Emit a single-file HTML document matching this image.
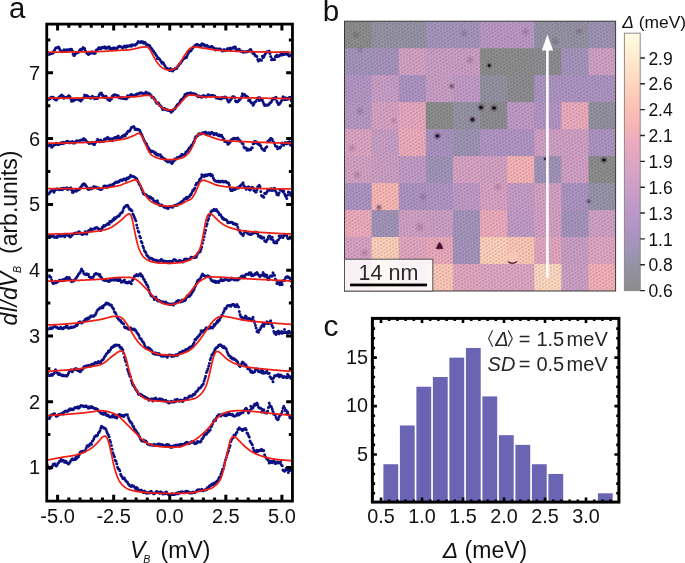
<!DOCTYPE html><html><head><meta charset="utf-8"><style>html,body{margin:0;padding:0;background:#fff;}svg{display:block;will-change:transform;}</style></head><body>
<svg width="685" height="563" viewBox="0 0 685 563" font-family='"Liberation Sans", sans-serif' fill="#111">
<rect width="685" height="563" fill="#fff"/>
<defs><radialGradient id="blob"><stop offset="0" stop-color="#000" stop-opacity="0.23"/><stop offset="0.6" stop-color="#000" stop-opacity="0.11"/><stop offset="1" stop-color="#000" stop-opacity="0"/></radialGradient><pattern id="lat" patternUnits="userSpaceOnUse" width="6.0" height="3.45" patternTransform="rotate(-4)"><rect width="6.0" height="3.45" fill="#fff" fill-opacity="0.02"/><g fill="url(#blob)"><ellipse cx="0" cy="0" rx="1.9" ry="1.0" transform="rotate(-40 0 0)"/><ellipse cx="6" cy="0" rx="1.9" ry="1.0" transform="rotate(-40 6 0)"/><ellipse cx="0" cy="3.45" rx="1.9" ry="1.0" transform="rotate(-40 0 3.45)"/><ellipse cx="6" cy="3.45" rx="1.9" ry="1.0" transform="rotate(-40 6 3.45)"/><ellipse cx="3" cy="1.725" rx="1.9" ry="1.0" transform="rotate(-40 3 1.725)"/></g></pattern><radialGradient id="spot"><stop offset="0" stop-color="#0c0614" stop-opacity="1"/><stop offset="0.6" stop-color="#0c0614" stop-opacity="0.85"/><stop offset="1" stop-color="#0c0614" stop-opacity="0"/></radialGradient><radialGradient id="spotm"><stop offset="0" stop-color="#2a0c2a" stop-opacity="0.6"/><stop offset="1" stop-color="#2a0c2a" stop-opacity="0"/></radialGradient><radialGradient id="smudge"><stop offset="0" stop-color="#301030" stop-opacity="0.2"/><stop offset="1" stop-color="#301030" stop-opacity="0"/></radialGradient><linearGradient id="cbar" x1="0" y1="1" x2="0" y2="0">
<stop offset="0" stop-color="#8c8c8e"/>
<stop offset="0.05" stop-color="#8f8f98"/>
<stop offset="0.1" stop-color="#9592a5"/>
<stop offset="0.15" stop-color="#9d94b3"/>
<stop offset="0.2" stop-color="#a793be"/>
<stop offset="0.25" stop-color="#b094c4"/>
<stop offset="0.3" stop-color="#b998c6"/>
<stop offset="0.35" stop-color="#c29bc7"/>
<stop offset="0.4" stop-color="#cb9fc6"/>
<stop offset="0.45" stop-color="#d5a2c5"/>
<stop offset="0.5" stop-color="#dea5c3"/>
<stop offset="0.55" stop-color="#e7a8c0"/>
<stop offset="0.6" stop-color="#f0adbb"/>
<stop offset="0.65" stop-color="#f7b5b7"/>
<stop offset="0.7" stop-color="#fbbfb6"/>
<stop offset="0.75" stop-color="#fdc9b8"/>
<stop offset="0.8" stop-color="#fed4bd"/>
<stop offset="0.85" stop-color="#ffdfc5"/>
<stop offset="0.9" stop-color="#ffeace"/>
<stop offset="0.95" stop-color="#fef4d8"/>
<stop offset="1" stop-color="#fefee2"/>
</linearGradient></defs>
<rect x="344.5" y="21.2" width="28.11" height="27.98" fill="#8b8b8c"/>
<rect x="371.61" y="21.2" width="28.11" height="27.98" fill="#9491a3"/>
<rect x="398.72" y="21.2" width="28.11" height="27.98" fill="#9491a3"/>
<rect x="425.83" y="21.2" width="28.11" height="27.98" fill="#a492bc"/>
<rect x="452.94" y="21.2" width="28.11" height="27.98" fill="#a492bc"/>
<rect x="480.05" y="21.2" width="28.11" height="27.98" fill="#b997c4"/>
<rect x="507.16" y="21.2" width="28.11" height="27.98" fill="#b997c4"/>
<rect x="534.27" y="21.2" width="28.11" height="27.98" fill="#9491a3"/>
<rect x="561.38" y="21.2" width="28.11" height="27.98" fill="#9491a3"/>
<rect x="588.49" y="21.2" width="27.11" height="27.98" fill="#9d92b3"/>
<rect x="344.5" y="48.18" width="28.11" height="27.98" fill="#a492bc"/>
<rect x="371.61" y="48.18" width="28.11" height="27.98" fill="#a492bc"/>
<rect x="398.72" y="48.18" width="28.11" height="27.98" fill="#d3a0c3"/>
<rect x="425.83" y="48.18" width="28.11" height="27.98" fill="#ca9dc5"/>
<rect x="452.94" y="48.18" width="28.11" height="27.98" fill="#ca9dc5"/>
<rect x="480.05" y="48.18" width="28.11" height="27.98" fill="#8b8b8c"/>
<rect x="507.16" y="48.18" width="28.11" height="27.98" fill="#8b8b8c"/>
<rect x="534.27" y="48.18" width="28.11" height="27.98" fill="#8b8b90"/>
<rect x="561.38" y="48.18" width="28.11" height="27.98" fill="#a492bc"/>
<rect x="588.49" y="48.18" width="27.11" height="27.98" fill="#d09fc4"/>
<rect x="344.5" y="75.16" width="28.11" height="27.98" fill="#b394c3"/>
<rect x="371.61" y="75.16" width="28.11" height="27.98" fill="#c89dc5"/>
<rect x="398.72" y="75.16" width="28.11" height="27.98" fill="#ac92c1"/>
<rect x="425.83" y="75.16" width="28.11" height="27.98" fill="#c89dc5"/>
<rect x="452.94" y="75.16" width="28.11" height="27.98" fill="#c19ac5"/>
<rect x="480.05" y="75.16" width="28.11" height="27.98" fill="#9290a0"/>
<rect x="507.16" y="75.16" width="28.11" height="27.98" fill="#8b8b90"/>
<rect x="534.27" y="75.16" width="28.11" height="27.98" fill="#ac92c1"/>
<rect x="561.38" y="75.16" width="28.11" height="27.98" fill="#ac92c1"/>
<rect x="588.49" y="75.16" width="27.11" height="27.98" fill="#ac92c1"/>
<rect x="344.5" y="102.14" width="28.11" height="27.98" fill="#b796c4"/>
<rect x="371.61" y="102.14" width="28.11" height="27.98" fill="#d7a1c3"/>
<rect x="398.72" y="102.14" width="28.11" height="27.98" fill="#e6a7be"/>
<rect x="425.83" y="102.14" width="28.11" height="27.98" fill="#8b8b8c"/>
<rect x="452.94" y="102.14" width="28.11" height="27.98" fill="#9491a3"/>
<rect x="480.05" y="102.14" width="28.11" height="27.98" fill="#8b8b90"/>
<rect x="507.16" y="102.14" width="28.11" height="27.98" fill="#be99c5"/>
<rect x="534.27" y="102.14" width="28.11" height="27.98" fill="#b394c3"/>
<rect x="561.38" y="102.14" width="28.11" height="27.98" fill="#ecaabb"/>
<rect x="588.49" y="102.14" width="27.11" height="27.98" fill="#918f9e"/>
<rect x="344.5" y="129.12" width="28.11" height="27.98" fill="#dba3c2"/>
<rect x="371.61" y="129.12" width="28.11" height="27.98" fill="#c89dc5"/>
<rect x="398.72" y="129.12" width="28.11" height="27.98" fill="#ecaabb"/>
<rect x="425.83" y="129.12" width="28.11" height="27.98" fill="#a891bf"/>
<rect x="452.94" y="129.12" width="28.11" height="27.98" fill="#9d92b3"/>
<rect x="480.05" y="129.12" width="28.11" height="27.98" fill="#b093c3"/>
<rect x="507.16" y="129.12" width="28.11" height="27.98" fill="#b093c3"/>
<rect x="534.27" y="129.12" width="28.11" height="27.98" fill="#d09fc4"/>
<rect x="561.38" y="129.12" width="28.11" height="27.98" fill="#d09fc4"/>
<rect x="588.49" y="129.12" width="27.11" height="27.98" fill="#ac92c1"/>
<rect x="344.5" y="156.1" width="28.11" height="27.98" fill="#d3a0c3"/>
<rect x="371.61" y="156.1" width="28.11" height="27.98" fill="#cc9ec4"/>
<rect x="398.72" y="156.1" width="28.11" height="27.98" fill="#c19ac5"/>
<rect x="425.83" y="156.1" width="28.11" height="27.98" fill="#a192b8"/>
<rect x="452.94" y="156.1" width="28.11" height="27.98" fill="#d7a1c3"/>
<rect x="480.05" y="156.1" width="28.11" height="27.98" fill="#d3a0c3"/>
<rect x="507.16" y="156.1" width="28.11" height="27.98" fill="#f5b2b6"/>
<rect x="534.27" y="156.1" width="28.11" height="27.98" fill="#a192b8"/>
<rect x="561.38" y="156.1" width="28.11" height="27.98" fill="#d09fc4"/>
<rect x="588.49" y="156.1" width="27.11" height="27.98" fill="#8b8b8c"/>
<rect x="344.5" y="183.08" width="28.11" height="27.98" fill="#ac92c1"/>
<rect x="371.61" y="183.08" width="28.11" height="27.98" fill="#f7b6b4"/>
<rect x="398.72" y="183.08" width="28.11" height="27.98" fill="#ac92c1"/>
<rect x="425.83" y="183.08" width="28.11" height="27.98" fill="#b093c3"/>
<rect x="452.94" y="183.08" width="28.11" height="27.98" fill="#be99c5"/>
<rect x="480.05" y="183.08" width="28.11" height="27.98" fill="#d7a1c3"/>
<rect x="507.16" y="183.08" width="28.11" height="27.98" fill="#c59bc5"/>
<rect x="534.27" y="183.08" width="28.11" height="27.98" fill="#d3a0c3"/>
<rect x="561.38" y="183.08" width="28.11" height="27.98" fill="#ac92c1"/>
<rect x="588.49" y="183.08" width="27.11" height="27.98" fill="#9692a8"/>
<rect x="344.5" y="210.06" width="28.11" height="27.98" fill="#ecaabb"/>
<rect x="371.61" y="210.06" width="28.11" height="27.98" fill="#a192b8"/>
<rect x="398.72" y="210.06" width="28.11" height="27.98" fill="#d09fc4"/>
<rect x="425.83" y="210.06" width="28.11" height="27.98" fill="#cc9ec4"/>
<rect x="452.94" y="210.06" width="28.11" height="27.98" fill="#a492bc"/>
<rect x="480.05" y="210.06" width="28.11" height="27.98" fill="#ecaabb"/>
<rect x="507.16" y="210.06" width="28.11" height="27.98" fill="#c19ac5"/>
<rect x="534.27" y="210.06" width="28.11" height="27.98" fill="#d3a0c3"/>
<rect x="561.38" y="210.06" width="28.11" height="27.98" fill="#a492bc"/>
<rect x="588.49" y="210.06" width="27.11" height="27.98" fill="#d09fc4"/>
<rect x="344.5" y="237.04" width="28.11" height="27.98" fill="#d7a1c3"/>
<rect x="371.61" y="237.04" width="28.11" height="27.98" fill="#fdcfba"/>
<rect x="398.72" y="237.04" width="28.11" height="27.98" fill="#e2a5bf"/>
<rect x="425.83" y="237.04" width="28.11" height="27.98" fill="#e9a8bc"/>
<rect x="452.94" y="237.04" width="28.11" height="27.98" fill="#a492bc"/>
<rect x="480.05" y="237.04" width="28.11" height="27.98" fill="#fdcfba"/>
<rect x="507.16" y="237.04" width="28.11" height="27.98" fill="#fcc6b6"/>
<rect x="534.27" y="237.04" width="28.11" height="27.98" fill="#e2a5bf"/>
<rect x="561.38" y="237.04" width="28.11" height="27.98" fill="#c89dc5"/>
<rect x="588.49" y="237.04" width="27.11" height="27.98" fill="#dea4c1"/>
<rect x="344.5" y="264.02" width="28.11" height="26.98" fill="#dea4c1"/>
<rect x="371.61" y="264.02" width="28.11" height="26.98" fill="#fcc6b6"/>
<rect x="398.72" y="264.02" width="28.11" height="26.98" fill="#dea4c1"/>
<rect x="425.83" y="264.02" width="28.11" height="26.98" fill="#fcc6b6"/>
<rect x="452.94" y="264.02" width="28.11" height="26.98" fill="#e2a5bf"/>
<rect x="480.05" y="264.02" width="28.11" height="26.98" fill="#dea4c1"/>
<rect x="507.16" y="264.02" width="28.11" height="26.98" fill="#dea4c1"/>
<rect x="534.27" y="264.02" width="28.11" height="26.98" fill="#fdd7bf"/>
<rect x="561.38" y="264.02" width="28.11" height="26.98" fill="#cc9ec4"/>
<rect x="588.49" y="264.02" width="27.11" height="26.98" fill="#f2afb7"/>
<rect x="344.5" y="21.2" width="271.1" height="269.8" fill="url(#lat)"/>
<circle cx="489.2" cy="65.5" r="3.6" fill="url(#spotm)"/>
<circle cx="481" cy="107.4" r="4.5" fill="url(#spotm)"/>
<circle cx="494" cy="108" r="4.65" fill="url(#spotm)"/>
<circle cx="437.4" cy="136" r="4.5" fill="url(#spotm)"/>
<circle cx="472.5" cy="119.6" r="3.9" fill="url(#spotm)"/>
<circle cx="603.9" cy="160" r="4.35" fill="url(#spotm)"/>
<circle cx="545" cy="158.9" r="2.25" fill="url(#spotm)"/>
<ellipse cx="489.2" cy="65.5" rx="1.92" ry="1.56" fill="url(#spot)"/>
<ellipse cx="481" cy="107.4" rx="2.4" ry="1.95" fill="url(#spot)"/>
<ellipse cx="494" cy="108" rx="2.48" ry="2.02" fill="url(#spot)"/>
<ellipse cx="437.4" cy="136" rx="2.4" ry="1.95" fill="url(#spot)"/>
<ellipse cx="472.5" cy="119.6" rx="2.08" ry="1.69" fill="url(#spot)"/>
<ellipse cx="603.9" cy="160" rx="2.32" ry="1.89" fill="url(#spot)"/>
<ellipse cx="545" cy="158.9" rx="1.2" ry="0.98" fill="url(#spot)"/>
<circle cx="451.7" cy="86.2" r="3.5" fill="url(#spotm)"/>
<circle cx="379" cy="207.5" r="3.8" fill="url(#spotm)"/>
<circle cx="588.6" cy="201.3" r="3.2" fill="url(#spotm)"/>
<circle cx="472.5" cy="119.6" r="3.5" fill="url(#spotm)"/>
<circle cx="356" cy="35" r="5" fill="url(#smudge)"/>
<circle cx="464" cy="33.5" r="5" fill="url(#smudge)"/>
<circle cx="470.2" cy="60.2" r="5" fill="url(#smudge)"/>
<circle cx="525.6" cy="31.9" r="5" fill="url(#smudge)"/>
<circle cx="579" cy="31.2" r="4.5" fill="url(#smudge)"/>
<circle cx="555.5" cy="41.4" r="5" fill="url(#smudge)"/>
<circle cx="360" cy="49.8" r="4" fill="url(#smudge)"/>
<circle cx="360" cy="111" r="5" fill="url(#smudge)"/>
<circle cx="393.6" cy="120.6" r="4" fill="url(#smudge)"/>
<circle cx="352" cy="148" r="5" fill="url(#smudge)"/>
<circle cx="357" cy="175" r="5" fill="url(#smudge)"/>
<circle cx="423" cy="197" r="5" fill="url(#smudge)"/>
<circle cx="497.8" cy="187" r="5" fill="url(#smudge)"/>
<circle cx="419.9" cy="227.2" r="6" fill="url(#smudge)"/>
<circle cx="364.4" cy="252.8" r="5" fill="url(#smudge)"/>
<circle cx="439.6" cy="246" r="4.2" fill="url(#spotm)"/>
<path d="M439.6 242.6 L442.9 248.6 L436.3 248.6 Z" fill="#4a0c2c" stroke="#4a0c2c" stroke-width="0.8" stroke-linejoin="round"/>
<circle cx="512.7" cy="257" r="5.5" fill="#f8c8b8" fill-opacity="0.8"/>
<path d="M508 261.5 Q512.5 265 517 261.5" stroke="#5a2a3a" stroke-width="1.5" fill="none"/>
<rect x="344.5" y="21.2" width="271.1" height="269.8" fill="none" stroke="#3a3a3a" stroke-width="1"/>
<rect x="546.1" y="49" width="2.6" height="228.8" fill="#fff"/>
<path d="M547.4 34.6 L553.1 50.6 L541.8 50.6 Z" fill="#fff"/>
<rect x="344.5" y="259.2" width="88.3" height="31.9" fill="#fff" fill-opacity="0.86" stroke="#555" stroke-width="1"/>
<text x="388.5" y="280.2" text-anchor="middle" font-size="21.5" fill="#2a2a2a">14 nm</text>
<rect x="350" y="283.6" width="77" height="2.7" fill="#000"/>
<rect x="624.4" y="33.2" width="15.8" height="257.4" fill="url(#cbar)" stroke="#8a8a8a" stroke-width="1"/>
<text x="648.4" y="297.2" font-size="17.5">0.6</text>
<text x="648.4" y="271.35" font-size="17.5">0.8</text>
<text x="648.4" y="245.5" font-size="17.5">1.1</text>
<text x="648.4" y="219.65" font-size="17.5">1.3</text>
<text x="648.4" y="193.8" font-size="17.5">1.6</text>
<text x="648.4" y="167.95" font-size="17.5">1.9</text>
<text x="648.4" y="142.1" font-size="17.5">2.1</text>
<text x="648.4" y="116.25" font-size="17.5">2.4</text>
<text x="648.4" y="90.4" font-size="17.5">2.6</text>
<text x="648.4" y="64.55" font-size="17.5">2.9</text>
<path d="M640.2 290.6H644.9M640.2 264.75H644.9M640.2 238.9H644.9M640.2 213.05H644.9M640.2 187.2H644.9M640.2 161.35H644.9M640.2 135.5H644.9M640.2 109.65H644.9M640.2 83.8H644.9M640.2 57.95H644.9" stroke="#222" stroke-width="1.4"/>
<text x="622.2" y="27.6" font-size="17.4"><tspan font-style="italic">&#916;</tspan> (meV)</text>
<text x="322.8" y="20.8" font-size="29.6">b</text>
<clipPath id="clipA"><rect x="48.15" y="25.5" width="242.9" height="474.2"/></clipPath>
<g clip-path="url(#clipA)">
<path d="M44 50.93h0M44.77 51.6h0M45.53 51.47h0M46.3 52.35h0M47.06 51.91h0M47.83 52.47h0M48.6 54.4h0M49.36 53.62h0M50.13 54.05h0M50.89 53.87h0M51.66 53.31h0M52.43 53.27h0M53.19 53.01h0M53.96 50.71h0M54.72 49.64h0M55.49 48.27h0M56.26 47.71h0M57.02 47.71h0M57.79 47.39h0M58.55 47.06h0M59.32 48.26h0M60.09 49.77h0M60.85 51.16h0M61.62 51.54h0M62.38 51.74h0M63.15 50.91h0M63.91 49.72h0M64.68 49.96h0M65.45 50.42h0M66.21 49.98h0M66.98 49.71h0M67.74 50.23h0M68.51 49.64h0M69.28 49.75h0M70.04 49.27h0M70.81 50.21h0M71.57 49.17h0M72.34 50.83h0M73.11 53.93h0M73.87 55.49h0M74.64 55.24h0M75.4 53.63h0M76.17 53.19h0M76.94 52.47h0M77.7 52.51h0M78.47 52.36h0M79.23 50.8h0M80 49.73h0M80.77 49.14h0M81.53 49.71h0M82.3 48.89h0M83.06 47.46h0M83.83 48.31h0M84.6 48.62h0M85.36 50.78h0M86.13 51.95h0M86.89 53.17h0M87.66 53.59h0M88.43 54.6h0M89.19 53.8h0M89.96 53.32h0M90.72 53.15h0M91.49 52.34h0M92.26 51.83h0M93.02 52.9h0M93.79 52.83h0M94.55 53.4h0M95.32 53.1h0M96.09 50.19h0M96.85 49.63h0M97.62 49.27h0M98.38 48.24h0M99.15 47.53h0M99.91 48.76h0M100.68 48.77h0M101.45 47.73h0M102.21 47.15h0M102.98 47.68h0M103.74 47.78h0M104.51 46.87h0M105.28 48.13h0M106.04 47.58h0M106.81 48.16h0M107.57 47.36h0M108.34 47.25h0M109.11 46.82h0M109.87 49.01h0M110.64 48.21h0M111.4 49.62h0M112.17 48.55h0M112.94 48.72h0M113.7 47.7h0M114.47 48.36h0M115.23 49.18h0M116 47.95h0M116.77 48.72h0M117.53 47.89h0M118.3 46.86h0M119.06 46.46h0M119.83 46.2h0M120.6 46.81h0M121.36 47.04h0M122.13 47.59h0M122.89 48.07h0M123.66 46.8h0M124.43 46.06h0M125.19 46.8h0M125.96 47.27h0M126.72 45.77h0M127.49 46.45h0M128.26 46.24h0M129.02 45.74h0M129.79 46.08h0M130.55 45.25h0M131.32 46.13h0M132.09 44.74h0M132.85 45.29h0M133.62 45.07h0M134.38 44.96h0M135.15 45.33h0M135.91 44.25h0M136.68 43.91h0M137.45 42.84h0M138.21 41.58h0M138.98 42h0M139.74 42.16h0M140.51 42.42h0M141.28 41.59h0M142.04 42.12h0M142.81 41.64h0M143.57 43.23h0M144.34 42.76h0M145.11 42.41h0M145.87 43.51h0M146.64 45.32h0M147.4 44.88h0M148.17 45.11h0M148.94 45.36h0M149.7 45.63h0M150.47 47.28h0M151.23 47.91h0M152 49h0M152.77 50.72h0M153.53 51.02h0M154.3 52.57h0M155.06 53.25h0M155.83 54.82h0M156.6 55.72h0M157.36 58.43h0M158.13 57.85h0M158.89 58.61h0M159.66 59.32h0M160.43 60.49h0M161.19 61.53h0M161.96 63.36h0M162.72 62.56h0M163.49 63.05h0M164.26 64.76h0M165.02 66.06h0M165.79 67.57h0M166.55 68.17h0M167.32 68.55h0M168.09 69.03h0M168.85 69.4h0M169.62 70.38h0M170.38 68.39h0M171.15 70.2h0M171.91 69.95h0M172.68 71.08h0M173.45 69.55h0M174.21 69.5h0M174.98 68.59h0M175.74 68.26h0M176.51 68.42h0M177.28 66.99h0M178.04 65.79h0M178.81 65.27h0M179.57 63.76h0M180.34 63.28h0M181.11 62.21h0M181.87 60.94h0M182.64 60.08h0M183.4 58.87h0M184.17 58.42h0M184.94 57.51h0M185.7 57.62h0M186.47 57.42h0M187.23 55.43h0M188 53.63h0M188.77 52.37h0M189.53 51.16h0M190.3 50.93h0M191.06 50.65h0M191.83 48.83h0M192.6 48.33h0M193.36 46.93h0M194.13 46.39h0M194.89 45.65h0M195.66 44.92h0M196.43 44.53h0M197.19 44.59h0M197.96 44.69h0M198.72 45.53h0M199.49 45.87h0M200.26 45.49h0M201.02 45.54h0M201.79 43.67h0M202.55 43.92h0M203.32 44.89h0M204.09 44.51h0M204.85 46.08h0M205.62 46.25h0M206.38 45.49h0M207.15 45.41h0M207.91 46.46h0M208.68 46.86h0M209.45 47.35h0M210.21 47.09h0M210.98 47.05h0M211.74 46.32h0M212.51 47.37h0M213.28 47.62h0M214.04 48.09h0M214.81 48.94h0M215.57 49.89h0M216.34 48.66h0M217.11 49.3h0M217.87 48.93h0M218.64 48.95h0M219.4 49.27h0M220.17 49.12h0M220.94 49.54h0M221.7 50.45h0M222.47 50.92h0M223.23 50.85h0M224 49.44h0M224.77 50.39h0M225.53 50.6h0M226.3 49.98h0M227.06 49.1h0M227.83 48.42h0M228.6 50.06h0M229.36 49.4h0M230.13 47.96h0M230.89 49.47h0M231.66 48.59h0M232.43 47.96h0M233.19 47.38h0M233.96 48h0M234.72 46.79h0M235.49 47.25h0M236.26 49.52h0M237.02 50.85h0M237.79 49.9h0M238.55 49.32h0M239.32 49.17h0M240.09 50.4h0M240.85 51.34h0M241.62 51.27h0M242.38 51.24h0M243.15 52.2h0M243.91 51.64h0M244.68 52.08h0M245.45 52h0M246.21 51.46h0M246.98 51.86h0M247.74 51.57h0M248.51 51.01h0M249.28 50.89h0M250.04 49.8h0M250.81 49.38h0M251.57 51.32h0M252.34 52.25h0M253.11 53.49h0M253.87 52.39h0M254.64 54.59h0M255.4 55.73h0M256.17 56.02h0M256.94 56.55h0M257.7 59.56h0M258.47 60.91h0M259.23 60.36h0M260 59.59h0M260.77 60.01h0M261.53 60.25h0M262.3 56.35h0M263.06 57.51h0M263.83 57.02h0M264.6 55.06h0M265.36 53.73h0M266.13 52.18h0M266.89 51.85h0M267.66 51.7h0M268.43 51.44h0M269.19 51.04h0M269.96 53.46h0M270.72 56.56h0M271.49 59.8h0M272.26 58.77h0M273.02 59.29h0M273.79 59.6h0M274.55 59.39h0M275.32 56.43h0M276.09 56.65h0M276.85 54.94h0M277.62 56.56h0M278.38 56.31h0M279.15 56.04h0M279.91 55.16h0M280.68 52.53h0M281.45 53.6h0M282.21 55.06h0M282.98 53.65h0M283.74 52.41h0M284.51 54.44h0M285.28 53.54h0M286.04 53.03h0M286.81 52.56h0M287.57 54.75h0M288.34 54.49h0M289.11 56.01h0M289.87 55.14h0M290.64 55.52h0M291.4 55.38h0M292.17 53.82h0M292.94 54.96h0M293.7 54.27h0M294.47 53.08h0M295.23 55.1h0M296 56.12h0M44 97.68h0M44.77 96.99h0M45.53 97.58h0M46.3 98.83h0M47.06 99.87h0M47.83 99.27h0M48.6 99.55h0M49.36 98.53h0M50.13 98.74h0M50.89 97.29h0M51.66 97.24h0M52.43 97.36h0M53.19 97.33h0M53.96 98.7h0M54.72 98.2h0M55.49 99.78h0M56.26 100.05h0M57.02 98.88h0M57.79 98.28h0M58.55 97.98h0M59.32 96.96h0M60.09 96.23h0M60.85 95.8h0M61.62 95.01h0M62.38 96.15h0M63.15 95.98h0M63.91 98.21h0M64.68 97.81h0M65.45 97.45h0M66.21 97.57h0M66.98 97.83h0M67.74 96.64h0M68.51 95.75h0M69.28 96h0M70.04 96.65h0M70.81 99.07h0M71.57 101.3h0M72.34 100.12h0M73.11 101.11h0M73.87 99.99h0M74.64 99.94h0M75.4 99.04h0M76.17 99.16h0M76.94 99.27h0M77.7 99.56h0M78.47 99.05h0M79.23 100.09h0M80 100.27h0M80.77 100.98h0M81.53 99.93h0M82.3 99.35h0M83.06 97.93h0M83.83 97.78h0M84.6 95.06h0M85.36 95.59h0M86.13 95.91h0M86.89 95.51h0M87.66 96.16h0M88.43 97.11h0M89.19 96.9h0M89.96 97.62h0M90.72 98.22h0M91.49 97.13h0M92.26 96.29h0M93.02 96.72h0M93.79 97.41h0M94.55 98.65h0M95.32 97.59h0M96.09 97.44h0M96.85 98.43h0M97.62 98.29h0M98.38 96.87h0M99.15 95.1h0M99.91 93.48h0M100.68 93.49h0M101.45 93.02h0M102.21 95.21h0M102.98 95.24h0M103.74 96.34h0M104.51 97.52h0M105.28 97.39h0M106.04 96.32h0M106.81 97.79h0M107.57 99.26h0M108.34 99.82h0M109.11 100.37h0M109.87 100.5h0M110.64 98.7h0M111.4 99.07h0M112.17 96.2h0M112.94 95.65h0M113.7 95.03h0M114.47 94.75h0M115.23 95.05h0M116 95.28h0M116.77 95.24h0M117.53 96.3h0M118.3 95.71h0M119.06 97.82h0M119.83 97.47h0M120.6 97.81h0M121.36 98.21h0M122.13 97.69h0M122.89 97.57h0M123.66 98.51h0M124.43 98.6h0M125.19 97.89h0M125.96 98.94h0M126.72 98.62h0M127.49 95.84h0M128.26 96.08h0M129.02 97h0M129.79 95.86h0M130.55 94.87h0M131.32 94.48h0M132.09 94.8h0M132.85 95.56h0M133.62 95.7h0M134.38 96.05h0M135.15 94.88h0M135.91 94.72h0M136.68 94.1h0M137.45 94.37h0M138.21 93.66h0M138.98 93.26h0M139.74 93.27h0M140.51 92.85h0M141.28 92.89h0M142.04 93.07h0M142.81 93.43h0M143.57 93.75h0M144.34 93.69h0M145.11 93.55h0M145.87 91.99h0M146.64 93.25h0M147.4 92.91h0M148.17 93.02h0M148.94 93.78h0M149.7 93.91h0M150.47 94.79h0M151.23 95.53h0M152 97.5h0M152.77 97.39h0M153.53 97.54h0M154.3 99.23h0M155.06 99.58h0M155.83 101.65h0M156.6 103.04h0M157.36 103.45h0M158.13 102.82h0M158.89 103.45h0M159.66 105.57h0M160.43 105.83h0M161.19 106.39h0M161.96 107.72h0M162.72 109.53h0M163.49 109.28h0M164.26 108.44h0M165.02 108.78h0M165.79 109.67h0M166.55 109.63h0M167.32 109.69h0M168.09 110.53h0M168.85 110.27h0M169.62 110.85h0M170.38 110.84h0M171.15 112.14h0M171.91 111.02h0M172.68 111.1h0M173.45 109.74h0M174.21 108.97h0M174.98 108.75h0M175.74 107.37h0M176.51 106.11h0M177.28 104.75h0M178.04 104.26h0M178.81 103.87h0M179.57 102.51h0M180.34 100.79h0M181.11 99.78h0M181.87 99.17h0M182.64 99h0M183.4 97.69h0M184.17 96.5h0M184.94 94.47h0M185.7 94.44h0M186.47 95.7h0M187.23 93.25h0M188 93.49h0M188.77 93.57h0M189.53 93.33h0M190.3 92.81h0M191.06 92.92h0M191.83 93.41h0M192.6 94.13h0M193.36 93.47h0M194.13 94.29h0M194.89 93.89h0M195.66 94.17h0M196.43 94.73h0M197.19 95.69h0M197.96 96.73h0M198.72 95.9h0M199.49 96.12h0M200.26 96.39h0M201.02 96.93h0M201.79 97.27h0M202.55 95.97h0M203.32 95.57h0M204.09 96.48h0M204.85 95.95h0M205.62 97.12h0M206.38 96.78h0M207.15 96.35h0M207.91 94.84h0M208.68 94.67h0M209.45 95.42h0M210.21 96.34h0M210.98 96.18h0M211.74 95.37h0M212.51 95.57h0M213.28 95.52h0M214.04 95.95h0M214.81 95.88h0M215.57 96.99h0M216.34 98.12h0M217.11 97.74h0M217.87 97.68h0M218.64 98.54h0M219.4 98.36h0M220.17 98.13h0M220.94 98.95h0M221.7 98.38h0M222.47 97.29h0M223.23 97.75h0M224 97.82h0M224.77 97.02h0M225.53 96.96h0M226.3 97.72h0M227.06 99.1h0M227.83 100.81h0M228.6 102.04h0M229.36 101.57h0M230.13 100.3h0M230.89 99.4h0M231.66 98.28h0M232.43 96.67h0M233.19 96.91h0M233.96 96.69h0M234.72 97.61h0M235.49 100.65h0M236.26 101.77h0M237.02 101.26h0M237.79 101.71h0M238.55 100.8h0M239.32 99.92h0M240.09 99.31h0M240.85 98.23h0M241.62 96.44h0M242.38 93.85h0M243.15 95.04h0M243.91 95.15h0M244.68 94.45h0M245.45 95.43h0M246.21 96.88h0M246.98 96.46h0M247.74 96.98h0M248.51 100.48h0M249.28 100h0M250.04 100.27h0M250.81 102.32h0M251.57 103.04h0M252.34 103h0M253.11 105.13h0M253.87 104.05h0M254.64 102.36h0M255.4 101.82h0M256.17 101.09h0M256.94 98.42h0M257.7 98.06h0M258.47 97.84h0M259.23 100.42h0M260 97.78h0M260.77 99.96h0M261.53 99.26h0M262.3 99.91h0M263.06 102h0M263.83 103.87h0M264.6 105.39h0M265.36 105.17h0M266.13 104.89h0M266.89 105.14h0M267.66 105.36h0M268.43 104.52h0M269.19 104.32h0M269.96 102.72h0M270.72 102.48h0M271.49 101.47h0M272.26 99.61h0M273.02 98.39h0M273.79 99.21h0M274.55 98.09h0M275.32 98.8h0M276.09 97.22h0M276.85 101.33h0M277.62 102.71h0M278.38 104.55h0M279.15 104.21h0M279.91 103.22h0M280.68 102.2h0M281.45 100.81h0M282.21 98.89h0M282.98 96.74h0M283.74 97.48h0M284.51 99.76h0M285.28 97.8h0M286.04 99.55h0M286.81 98.33h0M287.57 99.15h0M288.34 99.06h0M289.11 97.55h0M289.87 98.28h0M290.64 97.36h0M291.4 100.82h0M292.17 99.81h0M292.94 100.84h0M293.7 100.58h0M294.47 98.12h0M295.23 99.8h0M296 101.21h0M44 146.36h0M44.77 145.21h0M45.53 145.51h0M46.3 145.1h0M47.06 146.18h0M47.83 145.6h0M48.6 145.74h0M49.36 145.11h0M50.13 145.04h0M50.89 145.08h0M51.66 147.32h0M52.43 146.38h0M53.19 145.74h0M53.96 145.08h0M54.72 144.53h0M55.49 144.62h0M56.26 143.37h0M57.02 143.49h0M57.79 144.45h0M58.55 144.58h0M59.32 144.15h0M60.09 143.57h0M60.85 142.81h0M61.62 142.93h0M62.38 143.64h0M63.15 142.33h0M63.91 143.27h0M64.68 142.85h0M65.45 142.15h0M66.21 142.47h0M66.98 141.21h0M67.74 141.2h0M68.51 141.81h0M69.28 142.67h0M70.04 142.67h0M70.81 141.92h0M71.57 142.22h0M72.34 141.62h0M73.11 143.08h0M73.87 142.34h0M74.64 142.91h0M75.4 142.34h0M76.17 141.06h0M76.94 140.68h0M77.7 141.02h0M78.47 141.19h0M79.23 140.76h0M80 140.62h0M80.77 140.14h0M81.53 140.12h0M82.3 139.68h0M83.06 140.24h0M83.83 138.59h0M84.6 139.8h0M85.36 139.71h0M86.13 140.69h0M86.89 141.7h0M87.66 142.26h0M88.43 142.52h0M89.19 143.55h0M89.96 142.88h0M90.72 142.92h0M91.49 143.02h0M92.26 142.24h0M93.02 143.68h0M93.79 144.4h0M94.55 144.43h0M95.32 142.74h0M96.09 141.7h0M96.85 141.2h0M97.62 139.16h0M98.38 140.24h0M99.15 141.24h0M99.91 141.66h0M100.68 140.06h0M101.45 140.74h0M102.21 141.46h0M102.98 141.11h0M103.74 141.15h0M104.51 138.94h0M105.28 139.62h0M106.04 138.39h0M106.81 138.58h0M107.57 137.22h0M108.34 138.88h0M109.11 138.52h0M109.87 139.2h0M110.64 138.84h0M111.4 139.52h0M112.17 140.79h0M112.94 138.71h0M113.7 138.32h0M114.47 137.97h0M115.23 137.37h0M116 138.31h0M116.77 138.01h0M117.53 136.39h0M118.3 135.9h0M119.06 137.95h0M119.83 138.3h0M120.6 137.81h0M121.36 137.58h0M122.13 136.17h0M122.89 136.23h0M123.66 135.35h0M124.43 135.31h0M125.19 136.03h0M125.96 133.77h0M126.72 133.87h0M127.49 132.01h0M128.26 131.05h0M129.02 131.14h0M129.79 130.83h0M130.55 129.29h0M131.32 127.53h0M132.09 127.37h0M132.85 127.16h0M133.62 126.38h0M134.38 127.53h0M135.15 129.54h0M135.91 129.39h0M136.68 128.98h0M137.45 129.63h0M138.21 129.38h0M138.98 129.74h0M139.74 130.3h0M140.51 132.31h0M141.28 134.06h0M142.04 134.92h0M142.81 137.37h0M143.57 139.11h0M144.34 140.69h0M145.11 142.46h0M145.87 143.17h0M146.64 143.88h0M147.4 146.22h0M148.17 147.71h0M148.94 148.53h0M149.7 150.53h0M150.47 150.61h0M151.23 151.83h0M152 151.56h0M152.77 151.3h0M153.53 151.61h0M154.3 152.58h0M155.06 153.43h0M155.83 152.67h0M156.6 154.91h0M157.36 154.55h0M158.13 154.57h0M158.89 155.19h0M159.66 154.75h0M160.43 154.75h0M161.19 157.51h0M161.96 156.7h0M162.72 157.76h0M163.49 158.19h0M164.26 159.22h0M165.02 158.97h0M165.79 160.42h0M166.55 160.21h0M167.32 161.8h0M168.09 161.01h0M168.85 160.9h0M169.62 161.99h0M170.38 161.56h0M171.15 161.87h0M171.91 163.44h0M172.68 162.58h0M173.45 161.07h0M174.21 160.63h0M174.98 158.73h0M175.74 159.13h0M176.51 158.6h0M177.28 157.38h0M178.04 157.2h0M178.81 157.5h0M179.57 157.15h0M180.34 155.94h0M181.11 155.9h0M181.87 154.22h0M182.64 155.1h0M183.4 154.9h0M184.17 154.45h0M184.94 153.95h0M185.7 152.15h0M186.47 152.02h0M187.23 151.1h0M188 150.15h0M188.77 148.45h0M189.53 147.75h0M190.3 147.77h0M191.06 145.82h0M191.83 145.08h0M192.6 144.24h0M193.36 142.59h0M194.13 141.25h0M194.89 138.69h0M195.66 136.85h0M196.43 136.84h0M197.19 135.71h0M197.96 135.39h0M198.72 133.81h0M199.49 133.79h0M200.26 134.03h0M201.02 134.09h0M201.79 133.43h0M202.55 132.81h0M203.32 132.63h0M204.09 132.72h0M204.85 132.83h0M205.62 131.94h0M206.38 133.88h0M207.15 133.37h0M207.91 133.35h0M208.68 132.82h0M209.45 132.97h0M210.21 134.21h0M210.98 133.03h0M211.74 132.32h0M212.51 132.95h0M213.28 133.59h0M214.04 134.63h0M214.81 133.49h0M215.57 134.07h0M216.34 133.57h0M217.11 134.7h0M217.87 134.97h0M218.64 135.7h0M219.4 134.74h0M220.17 135.89h0M220.94 135.82h0M221.7 135.33h0M222.47 137.08h0M223.23 138.46h0M224 138.99h0M224.77 141.48h0M225.53 141.56h0M226.3 141.6h0M227.06 142.21h0M227.83 144.24h0M228.6 143.7h0M229.36 143.11h0M230.13 141.9h0M230.89 140.09h0M231.66 140.25h0M232.43 138.98h0M233.19 138.48h0M233.96 138.18h0M234.72 138.13h0M235.49 138.99h0M236.26 138.88h0M237.02 138.34h0M237.79 138h0M238.55 139.14h0M239.32 139.8h0M240.09 140.9h0M240.85 141.6h0M241.62 142.13h0M242.38 143.43h0M243.15 144.03h0M243.91 146.96h0M244.68 147.94h0M245.45 147.98h0M246.21 148.29h0M246.98 150.33h0M247.74 149.25h0M248.51 149.23h0M249.28 149.94h0M250.04 149.57h0M250.81 149.56h0M251.57 147.7h0M252.34 147.67h0M253.11 143.72h0M253.87 143.54h0M254.64 141.23h0M255.4 142.81h0M256.17 141.84h0M256.94 142.78h0M257.7 143.72h0M258.47 144.28h0M259.23 143.54h0M260 145.46h0M260.77 145.68h0M261.53 147.96h0M262.3 148.98h0M263.06 149.58h0M263.83 150.27h0M264.6 150.57h0M265.36 148.17h0M266.13 147.17h0M266.89 146.68h0M267.66 141.61h0M268.43 141.17h0M269.19 140.1h0M269.96 140.36h0M270.72 138.19h0M271.49 139.08h0M272.26 139.23h0M273.02 141.55h0M273.79 142.13h0M274.55 143.54h0M275.32 145.65h0M276.09 146.36h0M276.85 146.43h0M277.62 148.77h0M278.38 148.1h0M279.15 147.51h0M279.91 148.05h0M280.68 146.71h0M281.45 143.36h0M282.21 143.04h0M282.98 144.93h0M283.74 145.28h0M284.51 143.52h0M285.28 142.59h0M286.04 143.19h0M286.81 143.7h0M287.57 142.46h0M288.34 143.33h0M289.11 141.77h0M289.87 142.06h0M290.64 145.19h0M291.4 145.03h0M292.17 145.19h0M292.94 145.26h0M293.7 145.76h0M294.47 145.77h0M295.23 147.12h0M296 147.01h0M44 194.65h0M44.77 192.11h0M45.53 193.07h0M46.3 192.04h0M47.06 193.45h0M47.83 194.18h0M48.6 193.9h0M49.36 192.97h0M50.13 191.94h0M50.89 191.08h0M51.66 190.47h0M52.43 190.67h0M53.19 191.08h0M53.96 192.31h0M54.72 190.54h0M55.49 189.76h0M56.26 189.06h0M57.02 189.35h0M57.79 188.93h0M58.55 189.17h0M59.32 189.65h0M60.09 189.54h0M60.85 188.83h0M61.62 188.59h0M62.38 189.84h0M63.15 188.5h0M63.91 187.93h0M64.68 188.49h0M65.45 188.52h0M66.21 188.42h0M66.98 187.76h0M67.74 189.41h0M68.51 188.77h0M69.28 188.71h0M70.04 188.14h0M70.81 187.8h0M71.57 189.66h0M72.34 192.27h0M73.11 192.48h0M73.87 191.26h0M74.64 190.59h0M75.4 190.82h0M76.17 191.18h0M76.94 189.82h0M77.7 190.13h0M78.47 189.3h0M79.23 189.54h0M80 188.25h0M80.77 186.93h0M81.53 186.19h0M82.3 184.63h0M83.06 185.1h0M83.83 183.75h0M84.6 184.02h0M85.36 184.96h0M86.13 185.99h0M86.89 186.97h0M87.66 188.67h0M88.43 189.55h0M89.19 188.54h0M89.96 189.11h0M90.72 188.08h0M91.49 188.79h0M92.26 188.2h0M93.02 187.57h0M93.79 186.56h0M94.55 187.35h0M95.32 187h0M96.09 187.36h0M96.85 187.79h0M97.62 188.25h0M98.38 187.73h0M99.15 188.83h0M99.91 189.31h0M100.68 189.49h0M101.45 189.36h0M102.21 188.55h0M102.98 187.91h0M103.74 186.24h0M104.51 185.98h0M105.28 185.97h0M106.04 186.17h0M106.81 187.55h0M107.57 186.08h0M108.34 186.6h0M109.11 186.24h0M109.87 184.9h0M110.64 185.17h0M111.4 185.27h0M112.17 184.67h0M112.94 184.2h0M113.7 184.6h0M114.47 183.06h0M115.23 182.52h0M116 182.04h0M116.77 182.59h0M117.53 181.77h0M118.3 182.02h0M119.06 181.8h0M119.83 180.54h0M120.6 179.92h0M121.36 180.05h0M122.13 180.56h0M122.89 179.73h0M123.66 179.09h0M124.43 179.01h0M125.19 179.67h0M125.96 180.31h0M126.72 178.18h0M127.49 178.11h0M128.26 178.45h0M129.02 177.31h0M129.79 177.36h0M130.55 175.36h0M131.32 176.23h0M132.09 176.27h0M132.85 176.57h0M133.62 176.72h0M134.38 177.03h0M135.15 177.55h0M135.91 178.72h0M136.68 178.7h0M137.45 180.28h0M138.21 181.86h0M138.98 183.75h0M139.74 184.71h0M140.51 185.94h0M141.28 187.96h0M142.04 189.65h0M142.81 191.93h0M143.57 193.8h0M144.34 194.27h0M145.11 194.46h0M145.87 194.44h0M146.64 195.17h0M147.4 196.16h0M148.17 196.54h0M148.94 196.51h0M149.7 197.64h0M150.47 197.08h0M151.23 198.23h0M152 198.57h0M152.77 198.59h0M153.53 200.43h0M154.3 201.08h0M155.06 201.36h0M155.83 201.99h0M156.6 201.63h0M157.36 200.63h0M158.13 202.89h0M158.89 204.23h0M159.66 205.26h0M160.43 205.42h0M161.19 204.65h0M161.96 205.24h0M162.72 205.84h0M163.49 206.57h0M164.26 207.19h0M165.02 206.57h0M165.79 207.04h0M166.55 207.9h0M167.32 207.94h0M168.09 208.58h0M168.85 207.07h0M169.62 206.81h0M170.38 206.52h0M171.15 206.91h0M171.91 206.85h0M172.68 207.32h0M173.45 206.02h0M174.21 205.7h0M174.98 205.55h0M175.74 205.56h0M176.51 204.69h0M177.28 205.2h0M178.04 204.31h0M178.81 203.63h0M179.57 203.18h0M180.34 202.66h0M181.11 201.94h0M181.87 201.62h0M182.64 200.9h0M183.4 200.31h0M184.17 199.01h0M184.94 198.99h0M185.7 198.29h0M186.47 197.23h0M187.23 198.57h0M188 197.49h0M188.77 196.65h0M189.53 196.36h0M190.3 194.66h0M191.06 194.79h0M191.83 192.76h0M192.6 190.53h0M193.36 190.5h0M194.13 188.8h0M194.89 188.28h0M195.66 185.07h0M196.43 183.22h0M197.19 183.4h0M197.96 182.65h0M198.72 182.01h0M199.49 179.64h0M200.26 178.92h0M201.02 177.73h0M201.79 174.78h0M202.55 176h0M203.32 175.26h0M204.09 176.55h0M204.85 175.28h0M205.62 174.83h0M206.38 175.7h0M207.15 175.5h0M207.91 174.44h0M208.68 174.78h0M209.45 174.41h0M210.21 174.06h0M210.98 175.72h0M211.74 174.65h0M212.51 175.61h0M213.28 178.01h0M214.04 179.39h0M214.81 180.67h0M215.57 181.12h0M216.34 181.27h0M217.11 181.57h0M217.87 181.82h0M218.64 181.05h0M219.4 181.7h0M220.17 182.08h0M220.94 181.35h0M221.7 181.52h0M222.47 180.96h0M223.23 182.1h0M224 181.69h0M224.77 181.7h0M225.53 181.32h0M226.3 182.25h0M227.06 182.13h0M227.83 183.07h0M228.6 183.19h0M229.36 185.03h0M230.13 188.71h0M230.89 190.38h0M231.66 190.21h0M232.43 190.39h0M233.19 189.28h0M233.96 189.12h0M234.72 189.39h0M235.49 188.98h0M236.26 188.54h0M237.02 187.83h0M237.79 188.04h0M238.55 187.92h0M239.32 186.62h0M240.09 186.66h0M240.85 185.07h0M241.62 184.72h0M242.38 183.67h0M243.15 182.73h0M243.91 185.46h0M244.68 186.76h0M245.45 187.7h0M246.21 189.22h0M246.98 187.5h0M247.74 187.86h0M248.51 186.65h0M249.28 189.61h0M250.04 189.96h0M250.81 188.93h0M251.57 187.28h0M252.34 187.48h0M253.11 187.87h0M253.87 190.5h0M254.64 190.72h0M255.4 191.91h0M256.17 192.01h0M256.94 189.67h0M257.7 186.76h0M258.47 186.54h0M259.23 185.33h0M260 186.47h0M260.77 191.51h0M261.53 195.42h0M262.3 196.34h0M263.06 196.14h0M263.83 197.34h0M264.6 193.17h0M265.36 193.77h0M266.13 193.3h0M266.89 192.02h0M267.66 189.72h0M268.43 190.36h0M269.19 190.22h0M269.96 190.24h0M270.72 189.06h0M271.49 188.73h0M272.26 190.48h0M273.02 189.92h0M273.79 188.73h0M274.55 188.24h0M275.32 190.47h0M276.09 191.99h0M276.85 194.6h0M277.62 194h0M278.38 194.91h0M279.15 192.88h0M279.91 189.66h0M280.68 190.04h0M281.45 190.5h0M282.21 190.71h0M282.98 191.78h0M283.74 191.07h0M284.51 193.66h0M285.28 195.53h0M286.04 196.81h0M286.81 198.53h0M287.57 194.99h0M288.34 191.96h0M289.11 192.37h0M289.87 193h0M290.64 195.3h0M291.4 193.96h0M292.17 191.99h0M292.94 193.23h0M293.7 191.99h0M294.47 191.81h0M295.23 195.25h0M296 192.74h0M44 238.85h0M44.77 238.95h0M45.53 238.55h0M46.3 237.19h0M47.06 236.45h0M47.83 237h0M48.6 236.08h0M49.36 236.08h0M50.13 237.36h0M50.89 236.68h0M51.66 235.56h0M52.43 235.15h0M53.19 235.7h0M53.96 237.21h0M54.72 237.23h0M55.49 237.01h0M56.26 237.29h0M57.02 237.47h0M57.79 235.87h0M58.55 236.19h0M59.32 235.47h0M60.09 235.62h0M60.85 236.23h0M61.62 235.94h0M62.38 235.7h0M63.15 235.49h0M63.91 236.07h0M64.68 236.78h0M65.45 234.65h0M66.21 234.23h0M66.98 235.08h0M67.74 235.35h0M68.51 235.65h0M69.28 235.16h0M70.04 236.89h0M70.81 236.46h0M71.57 235.65h0M72.34 234.84h0M73.11 234.09h0M73.87 233.84h0M74.64 233.45h0M75.4 232.96h0M76.17 233.4h0M76.94 233.11h0M77.7 233.56h0M78.47 232.11h0M79.23 231.79h0M80 233.29h0M80.77 232.94h0M81.53 234.04h0M82.3 234.42h0M83.06 233.99h0M83.83 233.37h0M84.6 233.71h0M85.36 231.58h0M86.13 233.67h0M86.89 234.01h0M87.66 231.67h0M88.43 230.7h0M89.19 230.46h0M89.96 230.36h0M90.72 228.84h0M91.49 229.77h0M92.26 229.39h0M93.02 229.37h0M93.79 228.87h0M94.55 228.66h0M95.32 227.87h0M96.09 227.93h0M96.85 227.62h0M97.62 228h0M98.38 228.79h0M99.15 229.44h0M99.91 229.2h0M100.68 230.54h0M101.45 228.94h0M102.21 227.19h0M102.98 227.17h0M103.74 225.57h0M104.51 226.18h0M105.28 225.58h0M106.04 225.07h0M106.81 224.62h0M107.57 223.66h0M108.34 223.53h0M109.11 224.21h0M109.87 221.35h0M110.64 221.87h0M111.4 222.08h0M112.17 220.83h0M112.94 219.44h0M113.7 219.94h0M114.47 217.79h0M115.23 218.81h0M116 218.02h0M116.77 217.11h0M117.53 216.4h0M118.3 216.12h0M119.06 216h0M119.83 214.48h0M120.6 213.34h0M121.36 212.84h0M122.13 212.44h0M122.89 210.7h0M123.66 208.22h0M124.43 207.08h0M125.19 206.66h0M125.96 205.64h0M126.72 205.49h0M127.49 205.35h0M128.26 206.6h0M129.02 208.21h0M129.79 209.43h0M130.55 209.13h0M131.32 210.58h0M132.09 210.72h0M132.85 214.04h0M133.62 215.13h0M134.38 217.16h0M135.15 219.03h0M135.91 220.71h0M136.68 225.03h0M137.45 227.9h0M138.21 231.3h0M138.98 232.21h0M139.74 236.17h0M140.51 237.7h0M141.28 241.5h0M142.04 242.68h0M142.81 245.95h0M143.57 247.85h0M144.34 250.57h0M145.11 251.83h0M145.87 252.48h0M146.64 254.96h0M147.4 255.79h0M148.17 256.43h0M148.94 257.58h0M149.7 258.48h0M150.47 258.36h0M151.23 258.13h0M152 258.43h0M152.77 259.59h0M153.53 259.4h0M154.3 259.9h0M155.06 260.23h0M155.83 260.46h0M156.6 260.34h0M157.36 260.62h0M158.13 260.93h0M158.89 262.3h0M159.66 260.79h0M160.43 260.17h0M161.19 259.61h0M161.96 259.68h0M162.72 260.88h0M163.49 261.5h0M164.26 260.94h0M165.02 261.14h0M165.79 261.58h0M166.55 261.57h0M167.32 262.52h0M168.09 261.57h0M168.85 262.68h0M169.62 261.2h0M170.38 261.17h0M171.15 261.7h0M171.91 261.72h0M172.68 261.06h0M173.45 260.05h0M174.21 259.59h0M174.98 259.81h0M175.74 260.22h0M176.51 261.44h0M177.28 261.75h0M178.04 261.19h0M178.81 260.77h0M179.57 260.52h0M180.34 260.8h0M181.11 261.09h0M181.87 261.25h0M182.64 262.08h0M183.4 261.17h0M184.17 259.46h0M184.94 258.99h0M185.7 259.54h0M186.47 259.06h0M187.23 259.64h0M188 259.19h0M188.77 259.76h0M189.53 259.51h0M190.3 258.58h0M191.06 257.21h0M191.83 257.29h0M192.6 257.61h0M193.36 257.14h0M194.13 257.68h0M194.89 257.48h0M195.66 256.36h0M196.43 256.88h0M197.19 254.43h0M197.96 253.09h0M198.72 252.54h0M199.49 252.12h0M200.26 251.57h0M201.02 249.17h0M201.79 246.97h0M202.55 243.15h0M203.32 239.94h0M204.09 236.66h0M204.85 233.14h0M205.62 230.18h0M206.38 226.07h0M207.15 223.7h0M207.91 220.38h0M208.68 218.43h0M209.45 215.53h0M210.21 213.95h0M210.98 211.79h0M211.74 210.66h0M212.51 210.8h0M213.28 210.62h0M214.04 209.36h0M214.81 209.67h0M215.57 210.43h0M216.34 209.56h0M217.11 210.87h0M217.87 212.02h0M218.64 212.49h0M219.4 214.63h0M220.17 214.62h0M220.94 215.31h0M221.7 217.08h0M222.47 218.54h0M223.23 217.92h0M224 219.62h0M224.77 219.59h0M225.53 219.54h0M226.3 219.93h0M227.06 220.84h0M227.83 222.73h0M228.6 222.56h0M229.36 222.25h0M230.13 222.53h0M230.89 222.28h0M231.66 222.18h0M232.43 222.42h0M233.19 223.85h0M233.96 223.91h0M234.72 223.77h0M235.49 223.95h0M236.26 224.71h0M237.02 224.56h0M237.79 227.22h0M238.55 229.91h0M239.32 230.16h0M240.09 232.3h0M240.85 233.13h0M241.62 234.1h0M242.38 234.49h0M243.15 235.54h0M243.91 233.42h0M244.68 232.15h0M245.45 231.49h0M246.21 231.74h0M246.98 232.2h0M247.74 233.27h0M248.51 233.96h0M249.28 233.67h0M250.04 234.53h0M250.81 234.33h0M251.57 234.33h0M252.34 232.9h0M253.11 233.19h0M253.87 232.45h0M254.64 231.9h0M255.4 232.75h0M256.17 232.32h0M256.94 232.73h0M257.7 234.09h0M258.47 236.18h0M259.23 236.55h0M260 236.01h0M260.77 237.84h0M261.53 236.85h0M262.3 238.3h0M263.06 237.64h0M263.83 237.86h0M264.6 240.8h0M265.36 241.28h0M266.13 241.83h0M266.89 240.01h0M267.66 238.98h0M268.43 236.76h0M269.19 235.99h0M269.96 236.23h0M270.72 238.9h0M271.49 237.67h0M272.26 237.29h0M273.02 240.03h0M273.79 242.2h0M274.55 242.69h0M275.32 241.78h0M276.09 242.93h0M276.85 242.71h0M277.62 240.34h0M278.38 239.72h0M279.15 236.04h0M279.91 237.69h0M280.68 235.91h0M281.45 236.97h0M282.21 235.99h0M282.98 237.47h0M283.74 236.06h0M284.51 234.87h0M285.28 234.71h0M286.04 235.35h0M286.81 235.41h0M287.57 238.04h0M288.34 238.64h0M289.11 238.14h0M289.87 237.51h0M290.64 237.99h0M291.4 237.05h0M292.17 238.81h0M292.94 238.51h0M293.7 239.92h0M294.47 239.82h0M295.23 238.91h0M296 241.54h0M44 279.83h0M44.77 278.75h0M45.53 277.79h0M46.3 275.79h0M47.06 276.53h0M47.83 276.28h0M48.6 276.16h0M49.36 275.67h0M50.13 277.02h0M50.89 277.32h0M51.66 279.91h0M52.43 282.28h0M53.19 283.5h0M53.96 283.2h0M54.72 283.08h0M55.49 281.37h0M56.26 282.7h0M57.02 281.61h0M57.79 281.59h0M58.55 281.29h0M59.32 280.19h0M60.09 280.17h0M60.85 280.59h0M61.62 280.8h0M62.38 279.75h0M63.15 279.64h0M63.91 280.5h0M64.68 278.89h0M65.45 279.79h0M66.21 278.12h0M66.98 277.33h0M67.74 278.37h0M68.51 278.96h0M69.28 277.47h0M70.04 279.66h0M70.81 280.04h0M71.57 281.72h0M72.34 281.11h0M73.11 280.74h0M73.87 280.94h0M74.64 279.83h0M75.4 279.27h0M76.17 277.89h0M76.94 276.67h0M77.7 275.69h0M78.47 274.33h0M79.23 273.52h0M80 272.39h0M80.77 271.08h0M81.53 268.94h0M82.3 270.48h0M83.06 271.29h0M83.83 273.58h0M84.6 274.08h0M85.36 274.29h0M86.13 274.71h0M86.89 273.65h0M87.66 274.42h0M88.43 274.37h0M89.19 276.73h0M89.96 277.32h0M90.72 277.2h0M91.49 278.03h0M92.26 278.28h0M93.02 277.19h0M93.79 276.07h0M94.55 274.35h0M95.32 273.64h0M96.09 273.57h0M96.85 274.06h0M97.62 273.98h0M98.38 274.19h0M99.15 275.16h0M99.91 274.59h0M100.68 276.76h0M101.45 277.6h0M102.21 278.65h0M102.98 279.67h0M103.74 279.83h0M104.51 280.38h0M105.28 279.72h0M106.04 279.93h0M106.81 280.53h0M107.57 281.01h0M108.34 281.04h0M109.11 281.51h0M109.87 280.36h0M110.64 280.05h0M111.4 280.13h0M112.17 279.65h0M112.94 279.66h0M113.7 279.22h0M114.47 280.34h0M115.23 279.08h0M116 279.47h0M116.77 278.77h0M117.53 280.6h0M118.3 279.93h0M119.06 280.55h0M119.83 279.24h0M120.6 280.58h0M121.36 282.27h0M122.13 281.31h0M122.89 281.64h0M123.66 281.12h0M124.43 280.04h0M125.19 281.98h0M125.96 282.75h0M126.72 282.24h0M127.49 283.11h0M128.26 282.16h0M129.02 281.86h0M129.79 282.53h0M130.55 282.63h0M131.32 283.84h0M132.09 280.43h0M132.85 279.7h0M133.62 278.41h0M134.38 276.26h0M135.15 275.85h0M135.91 275.87h0M136.68 274.61h0M137.45 275.01h0M138.21 275.67h0M138.98 274.87h0M139.74 274.06h0M140.51 273.79h0M141.28 275.96h0M142.04 275.53h0M142.81 277h0M143.57 278.91h0M144.34 279.67h0M145.11 281.75h0M145.87 282.43h0M146.64 284.49h0M147.4 285.3h0M148.17 287.32h0M148.94 289.93h0M149.7 292.51h0M150.47 293.88h0M151.23 295.69h0M152 296.06h0M152.77 296.54h0M153.53 297.17h0M154.3 299.43h0M155.06 299.09h0M155.83 297.07h0M156.6 298.88h0M157.36 300.47h0M158.13 301.02h0M158.89 300.21h0M159.66 300.79h0M160.43 301.17h0M161.19 302.09h0M161.96 301.67h0M162.72 301.81h0M163.49 302.06h0M164.26 302.91h0M165.02 302.3h0M165.79 301.9h0M166.55 303.65h0M167.32 303.54h0M168.09 303.99h0M168.85 303.8h0M169.62 304.36h0M170.38 304.57h0M171.15 304.02h0M171.91 304.43h0M172.68 304.04h0M173.45 305.04h0M174.21 303.44h0M174.98 303.43h0M175.74 302.65h0M176.51 301.49h0M177.28 302.32h0M178.04 300.56h0M178.81 300.46h0M179.57 301.27h0M180.34 302.12h0M181.11 301.66h0M181.87 299.97h0M182.64 301.19h0M183.4 300.16h0M184.17 299.96h0M184.94 300.58h0M185.7 299.23h0M186.47 297.55h0M187.23 295.87h0M188 296.38h0M188.77 296.45h0M189.53 296.18h0M190.3 295.23h0M191.06 294.52h0M191.83 292.78h0M192.6 291.83h0M193.36 290.61h0M194.13 289.24h0M194.89 286.91h0M195.66 285.6h0M196.43 283.68h0M197.19 281.51h0M197.96 280.33h0M198.72 280.53h0M199.49 279.28h0M200.26 278.86h0M201.02 276.63h0M201.79 275.37h0M202.55 273.88h0M203.32 275.01h0M204.09 275.63h0M204.85 276.01h0M205.62 276.27h0M206.38 276.46h0M207.15 275.96h0M207.91 275.65h0M208.68 276.37h0M209.45 277.32h0M210.21 277.02h0M210.98 279.54h0M211.74 280.57h0M212.51 280.84h0M213.28 281.46h0M214.04 281.12h0M214.81 281.11h0M215.57 282.52h0M216.34 281.76h0M217.11 281.61h0M217.87 282.29h0M218.64 282.6h0M219.4 281.01h0M220.17 280.61h0M220.94 279.49h0M221.7 279.69h0M222.47 280.87h0M223.23 280.33h0M224 280.15h0M224.77 279.6h0M225.53 279.6h0M226.3 279.39h0M227.06 279.55h0M227.83 279.94h0M228.6 280.41h0M229.36 280.31h0M230.13 280.09h0M230.89 278.31h0M231.66 277.99h0M232.43 278.93h0M233.19 279.19h0M233.96 279.06h0M234.72 279.97h0M235.49 279.21h0M236.26 279.2h0M237.02 279.89h0M237.79 280.1h0M238.55 278.57h0M239.32 278.99h0M240.09 277.88h0M240.85 277h0M241.62 275.9h0M242.38 276.11h0M243.15 277.72h0M243.91 276.08h0M244.68 277.56h0M245.45 275.05h0M246.21 274.37h0M246.98 274.3h0M247.74 274.31h0M248.51 274.46h0M249.28 272.77h0M250.04 273.65h0M250.81 272.69h0M251.57 275.66h0M252.34 274.57h0M253.11 275.58h0M253.87 274.79h0M254.64 274.85h0M255.4 273.42h0M256.17 274.05h0M256.94 272.4h0M257.7 273.87h0M258.47 274.65h0M259.23 275.75h0M260 276.56h0M260.77 275.31h0M261.53 275.13h0M262.3 275.18h0M263.06 272.53h0M263.83 273.92h0M264.6 276.15h0M265.36 274.81h0M266.13 276.29h0M266.89 275.17h0M267.66 278.31h0M268.43 279.73h0M269.19 277.48h0M269.96 276.39h0M270.72 275.63h0M271.49 276.07h0M272.26 275.94h0M273.02 272.82h0M273.79 275.01h0M274.55 275.31h0M275.32 279.1h0M276.09 279.92h0M276.85 283.59h0M277.62 282.15h0M278.38 283.16h0M279.15 283.17h0M279.91 284.68h0M280.68 281.51h0M281.45 283.21h0M282.21 284.41h0M282.98 280.84h0M283.74 280.29h0M284.51 280.44h0M285.28 278.18h0M286.04 277.04h0M286.81 277.05h0M287.57 276.44h0M288.34 277.39h0M289.11 277.52h0M289.87 278.33h0M290.64 280.81h0M291.4 286.35h0M292.17 289.32h0M292.94 288.81h0M293.7 285.31h0M294.47 285.23h0M295.23 283.24h0M296 279.81h0M44 328.38h0M44.77 329.4h0M45.53 329.04h0M46.3 329.34h0M47.06 328.28h0M47.83 329.13h0M48.6 329.04h0M49.36 328.86h0M50.13 327.93h0M50.89 327.66h0M51.66 328.58h0M52.43 328.05h0M53.19 327.29h0M53.96 326.67h0M54.72 326.35h0M55.49 326.67h0M56.26 327.25h0M57.02 327.26h0M57.79 327.9h0M58.55 328.38h0M59.32 328.41h0M60.09 327.74h0M60.85 327.21h0M61.62 328.39h0M62.38 328.75h0M63.15 328.67h0M63.91 327.46h0M64.68 327.41h0M65.45 327.16h0M66.21 325.7h0M66.98 325.81h0M67.74 327.58h0M68.51 328.29h0M69.28 328.12h0M70.04 327.83h0M70.81 327h0M71.57 327.44h0M72.34 327.1h0M73.11 327.14h0M73.87 326.73h0M74.64 326.81h0M75.4 326.01h0M76.17 325.37h0M76.94 325.44h0M77.7 324.19h0M78.47 322.47h0M79.23 322.42h0M80 321.87h0M80.77 322.37h0M81.53 323.06h0M82.3 322.68h0M83.06 321.75h0M83.83 321.53h0M84.6 320.2h0M85.36 319.14h0M86.13 318.74h0M86.89 318.6h0M87.66 319.4h0M88.43 317.74h0M89.19 318.32h0M89.96 317.27h0M90.72 315.95h0M91.49 316.16h0M92.26 316.02h0M93.02 316.16h0M93.79 316.23h0M94.55 315.33h0M95.32 314.69h0M96.09 313.2h0M96.85 311.18h0M97.62 310h0M98.38 309.17h0M99.15 308.97h0M99.91 307.76h0M100.68 307.91h0M101.45 307.38h0M102.21 306.57h0M102.98 307.68h0M103.74 305.61h0M104.51 304.94h0M105.28 304.62h0M106.04 303.02h0M106.81 303.67h0M107.57 303.3h0M108.34 303.46h0M109.11 304.23h0M109.87 304.9h0M110.64 305.01h0M111.4 305.07h0M112.17 306.96h0M112.94 308.11h0M113.7 309.31h0M114.47 311.97h0M115.23 312.6h0M116 313.82h0M116.77 316.41h0M117.53 317.84h0M118.3 318.8h0M119.06 319.69h0M119.83 320.39h0M120.6 320.38h0M121.36 322.23h0M122.13 322.53h0M122.89 323.6h0M123.66 323.86h0M124.43 326.65h0M125.19 327.85h0M125.96 327.55h0M126.72 327.89h0M127.49 327.74h0M128.26 328.98h0M129.02 329.33h0M129.79 329.06h0M130.55 327.79h0M131.32 328.77h0M132.09 329.18h0M132.85 328.88h0M133.62 329.81h0M134.38 329.07h0M135.15 330.32h0M135.91 330.59h0M136.68 332.19h0M137.45 333.23h0M138.21 334.31h0M138.98 335.61h0M139.74 337.95h0M140.51 338.38h0M141.28 339.03h0M142.04 340.83h0M142.81 341.64h0M143.57 342.46h0M144.34 344.35h0M145.11 346.25h0M145.87 348.21h0M146.64 348.38h0M147.4 348.57h0M148.17 347.49h0M148.94 348.07h0M149.7 348.55h0M150.47 349.31h0M151.23 350.26h0M152 350.86h0M152.77 352.75h0M153.53 353.63h0M154.3 353.35h0M155.06 352.74h0M155.83 354.14h0M156.6 353.17h0M157.36 354.19h0M158.13 354.49h0M158.89 353.52h0M159.66 354.76h0M160.43 355h0M161.19 355.97h0M161.96 355.82h0M162.72 356.15h0M163.49 355.33h0M164.26 355.16h0M165.02 355.9h0M165.79 355.33h0M166.55 355.64h0M167.32 357.16h0M168.09 355.47h0M168.85 355.09h0M169.62 355.23h0M170.38 355.21h0M171.15 354.92h0M171.91 356.56h0M172.68 355.61h0M173.45 355.83h0M174.21 356.03h0M174.98 355.44h0M175.74 354.78h0M176.51 354.68h0M177.28 355.54h0M178.04 354.37h0M178.81 353.93h0M179.57 352.58h0M180.34 353.25h0M181.11 352.14h0M181.87 352.07h0M182.64 351.1h0M183.4 351.26h0M184.17 351.18h0M184.94 350.52h0M185.7 349.58h0M186.47 350.29h0M187.23 349.17h0M188 348.84h0M188.77 348.37h0M189.53 347.2h0M190.3 346.99h0M191.06 347.19h0M191.83 346.44h0M192.6 345.49h0M193.36 344.03h0M194.13 342.45h0M194.89 339.52h0M195.66 339.81h0M196.43 338.52h0M197.19 337.5h0M197.96 337.02h0M198.72 335.8h0M199.49 335.14h0M200.26 333.83h0M201.02 330.71h0M201.79 331.36h0M202.55 332h0M203.32 330.39h0M204.09 330.41h0M204.85 329.93h0M205.62 328.5h0M206.38 327.77h0M207.15 328.52h0M207.91 328.87h0M208.68 327.83h0M209.45 327.61h0M210.21 327.9h0M210.98 327.08h0M211.74 327.79h0M212.51 328.02h0M213.28 326.76h0M214.04 324.46h0M214.81 325.36h0M215.57 324.03h0M216.34 322.95h0M217.11 321.3h0M217.87 321.97h0M218.64 319.93h0M219.4 320.16h0M220.17 318.11h0M220.94 317.1h0M221.7 315.28h0M222.47 315.67h0M223.23 312.77h0M224 311.01h0M224.77 308.58h0M225.53 309.06h0M226.3 307.94h0M227.06 306.07h0M227.83 305.63h0M228.6 305.53h0M229.36 305.86h0M230.13 305.31h0M230.89 306.15h0M231.66 305.1h0M232.43 304.57h0M233.19 304.75h0M233.96 304.53h0M234.72 305.95h0M235.49 306.63h0M236.26 305.46h0M237.02 304.6h0M237.79 305.9h0M238.55 307h0M239.32 311.44h0M240.09 314.6h0M240.85 316.84h0M241.62 317.04h0M242.38 318.77h0M243.15 319.49h0M243.91 317.96h0M244.68 318.08h0M245.45 316.08h0M246.21 316.53h0M246.98 319.14h0M247.74 318.77h0M248.51 318.65h0M249.28 318.23h0M250.04 319.03h0M250.81 320.46h0M251.57 320.78h0M252.34 318.47h0M253.11 317.18h0M253.87 320.82h0M254.64 322.52h0M255.4 325.35h0M256.17 328h0M256.94 331.49h0M257.7 330.74h0M258.47 332.24h0M259.23 330.12h0M260 329.53h0M260.77 327.68h0M261.53 326.36h0M262.3 325.37h0M263.06 323.98h0M263.83 326.31h0M264.6 324.05h0M265.36 323.43h0M266.13 323.04h0M266.89 321.77h0M267.66 323.62h0M268.43 323.59h0M269.19 322.17h0M269.96 322.76h0M270.72 320.86h0M271.49 323.97h0M272.26 325.97h0M273.02 327.58h0M273.79 331.23h0M274.55 333.32h0M275.32 333.11h0M276.09 334.4h0M276.85 332.06h0M277.62 332.34h0M278.38 330.95h0M279.15 333.74h0M279.91 332.61h0M280.68 332.51h0M281.45 331.41h0M282.21 333.26h0M282.98 332.67h0M283.74 332.6h0M284.51 329.58h0M285.28 332.4h0M286.04 332.39h0M286.81 332.85h0M287.57 333.16h0M288.34 331.57h0M289.11 331.33h0M289.87 332.23h0M290.64 332.85h0M291.4 332.97h0M292.17 333.29h0M292.94 332.36h0M293.7 333.03h0M294.47 333.08h0M295.23 332.8h0M296 335.43h0M44 374h0M44.77 373.46h0M45.53 374.94h0M46.3 373.21h0M47.06 372.21h0M47.83 372.66h0M48.6 375.38h0M49.36 375.29h0M50.13 375.6h0M50.89 375.1h0M51.66 374.36h0M52.43 375.3h0M53.19 373.97h0M53.96 373.53h0M54.72 371.24h0M55.49 369.69h0M56.26 371.97h0M57.02 372.49h0M57.79 373.48h0M58.55 374.58h0M59.32 373.38h0M60.09 374.32h0M60.85 374.68h0M61.62 375.19h0M62.38 375.83h0M63.15 374.94h0M63.91 375.78h0M64.68 375.65h0M65.45 375.45h0M66.21 375.91h0M66.98 376.06h0M67.74 374.66h0M68.51 373.23h0M69.28 370.9h0M70.04 370.52h0M70.81 369.78h0M71.57 371.17h0M72.34 371.79h0M73.11 370.28h0M73.87 369.33h0M74.64 368.91h0M75.4 369.55h0M76.17 368.53h0M76.94 369.28h0M77.7 370.49h0M78.47 370.65h0M79.23 370.63h0M80 371.64h0M80.77 371.25h0M81.53 369.6h0M82.3 369.45h0M83.06 368.39h0M83.83 366.87h0M84.6 366.64h0M85.36 366.32h0M86.13 366.09h0M86.89 365.92h0M87.66 365.85h0M88.43 365.56h0M89.19 365.6h0M89.96 366.3h0M90.72 366.09h0M91.49 364.14h0M92.26 364.26h0M93.02 364.51h0M93.79 364.32h0M94.55 363.06h0M95.32 362.59h0M96.09 362.5h0M96.85 363.18h0M97.62 362.5h0M98.38 361.42h0M99.15 362.55h0M99.91 362.22h0M100.68 362.93h0M101.45 360.73h0M102.21 360.1h0M102.98 359.85h0M103.74 358.41h0M104.51 356.72h0M105.28 356.09h0M106.04 354.21h0M106.81 353.55h0M107.57 352.87h0M108.34 351.08h0M109.11 351.66h0M109.87 350.2h0M110.64 349.48h0M111.4 347.59h0M112.17 347.44h0M112.94 346.63h0M113.7 345.74h0M114.47 346.29h0M115.23 345.12h0M116 345h0M116.77 345.19h0M117.53 345.23h0M118.3 345.16h0M119.06 345.3h0M119.83 346.82h0M120.6 348.13h0M121.36 347.55h0M122.13 348.78h0M122.89 350.05h0M123.66 353.26h0M124.43 357.25h0M125.19 359.94h0M125.96 361.79h0M126.72 365.08h0M127.49 369.15h0M128.26 371.39h0M129.02 373.92h0M129.79 376.09h0M130.55 376.85h0M131.32 380.57h0M132.09 383.05h0M132.85 384.97h0M133.62 385.22h0M134.38 386.69h0M135.15 388.35h0M135.91 389.77h0M136.68 390.61h0M137.45 391.83h0M138.21 393.8h0M138.98 394.52h0M139.74 393.98h0M140.51 394.18h0M141.28 395.75h0M142.04 395.03h0M142.81 396.04h0M143.57 396.79h0M144.34 396.47h0M145.11 397.04h0M145.87 397.92h0M146.64 397.95h0M147.4 398.16h0M148.17 398.99h0M148.94 400.19h0M149.7 399.68h0M150.47 399.37h0M151.23 399.04h0M152 399.02h0M152.77 401h0M153.53 398.76h0M154.3 398.78h0M155.06 399.03h0M155.83 398.12h0M156.6 399.5h0M157.36 400.38h0M158.13 399.39h0M158.89 399.39h0M159.66 398.79h0M160.43 399.6h0M161.19 399.11h0M161.96 399.19h0M162.72 400.09h0M163.49 400.18h0M164.26 400.92h0M165.02 400.67h0M165.79 400.29h0M166.55 401.55h0M167.32 402.12h0M168.09 401.38h0M168.85 402.88h0M169.62 402.26h0M170.38 402.26h0M171.15 401.18h0M171.91 401.45h0M172.68 401.98h0M173.45 402.1h0M174.21 401.93h0M174.98 399.82h0M175.74 401.39h0M176.51 400.23h0M177.28 399.32h0M178.04 400.23h0M178.81 400.95h0M179.57 401.35h0M180.34 400.01h0M181.11 400.73h0M181.87 400.19h0M182.64 401.39h0M183.4 400.03h0M184.17 400.12h0M184.94 398.09h0M185.7 398.91h0M186.47 398.42h0M187.23 399.38h0M188 399.18h0M188.77 396.84h0M189.53 396h0M190.3 396.06h0M191.06 396.14h0M191.83 396.17h0M192.6 395.24h0M193.36 394.33h0M194.13 394.64h0M194.89 394.07h0M195.66 392.28h0M196.43 391.6h0M197.19 390.95h0M197.96 389.9h0M198.72 388.22h0M199.49 388.2h0M200.26 387.86h0M201.02 386.98h0M201.79 385.45h0M202.55 385.11h0M203.32 383.64h0M204.09 381.01h0M204.85 378.58h0M205.62 376.3h0M206.38 372.54h0M207.15 370.95h0M207.91 368.87h0M208.68 366.12h0M209.45 363.37h0M210.21 359.81h0M210.98 357.86h0M211.74 354.73h0M212.51 355.1h0M213.28 353.36h0M214.04 351.84h0M214.81 349.85h0M215.57 348.48h0M216.34 347.63h0M217.11 347.18h0M217.87 346.75h0M218.64 345.13h0M219.4 345.27h0M220.17 344.84h0M220.94 345.05h0M221.7 345.82h0M222.47 347.1h0M223.23 347.45h0M224 346.43h0M224.77 348.11h0M225.53 348.37h0M226.3 349.12h0M227.06 351.39h0M227.83 353.31h0M228.6 355.06h0M229.36 355.73h0M230.13 356.37h0M230.89 357.74h0M231.66 357.42h0M232.43 358.91h0M233.19 359h0M233.96 358.51h0M234.72 359.47h0M235.49 359.82h0M236.26 360.43h0M237.02 361.26h0M237.79 362.34h0M238.55 364.44h0M239.32 365.73h0M240.09 366.55h0M240.85 365.62h0M241.62 363.45h0M242.38 362.12h0M243.15 362.4h0M243.91 363.4h0M244.68 365.07h0M245.45 364.48h0M246.21 365.51h0M246.98 366.7h0M247.74 368.76h0M248.51 368.75h0M249.28 369.09h0M250.04 370.14h0M250.81 372.03h0M251.57 371.04h0M252.34 372.4h0M253.11 372.6h0M253.87 372.11h0M254.64 371.71h0M255.4 369.35h0M256.17 368.66h0M256.94 369.71h0M257.7 369.78h0M258.47 371.48h0M259.23 371.53h0M260 371.9h0M260.77 372h0M261.53 369.46h0M262.3 372.95h0M263.06 371.18h0M263.83 373.32h0M264.6 372.99h0M265.36 372.86h0M266.13 372.87h0M266.89 370.67h0M267.66 372.95h0M268.43 373.49h0M269.19 373.24h0M269.96 376.71h0M270.72 377.59h0M271.49 378.68h0M272.26 378.96h0M273.02 381.71h0M273.79 377.85h0M274.55 375.77h0M275.32 375.76h0M276.09 375.77h0M276.85 375.36h0M277.62 375.04h0M278.38 374.48h0M279.15 376.76h0M279.91 375.95h0M280.68 374.99h0M281.45 375.55h0M282.21 376.18h0M282.98 377.42h0M283.74 377.08h0M284.51 376.49h0M285.28 377.11h0M286.04 377.09h0M286.81 377.86h0M287.57 374.36h0M288.34 375.39h0M289.11 376.89h0M289.87 376.4h0M290.64 378.06h0M291.4 378.43h0M292.17 377.53h0M292.94 377.79h0M293.7 377.47h0M294.47 377.64h0M295.23 376.94h0M296 377.3h0M44 417.26h0M44.77 416.51h0M45.53 416.59h0M46.3 418.27h0M47.06 417.85h0M47.83 418.54h0M48.6 418.16h0M49.36 418.47h0M50.13 417.02h0M50.89 415.08h0M51.66 415.03h0M52.43 414.47h0M53.19 414.59h0M53.96 413.75h0M54.72 413.81h0M55.49 415.19h0M56.26 416.15h0M57.02 416.03h0M57.79 415.5h0M58.55 414.56h0M59.32 414.55h0M60.09 414.27h0M60.85 413.96h0M61.62 413.68h0M62.38 413.08h0M63.15 413.89h0M63.91 412.37h0M64.68 411.6h0M65.45 411.12h0M66.21 411.26h0M66.98 411.49h0M67.74 410.98h0M68.51 410.11h0M69.28 410.21h0M70.04 408.73h0M70.81 409.39h0M71.57 408.91h0M72.34 409.32h0M73.11 409.73h0M73.87 408.76h0M74.64 407.8h0M75.4 407.58h0M76.17 407.82h0M76.94 407.8h0M77.7 406.82h0M78.47 408.37h0M79.23 407.7h0M80 406.54h0M80.77 405.47h0M81.53 405.9h0M82.3 405.63h0M83.06 406.15h0M83.83 405.95h0M84.6 406.69h0M85.36 406.55h0M86.13 405.74h0M86.89 406.85h0M87.66 407.13h0M88.43 408.16h0M89.19 406.64h0M89.96 407.73h0M90.72 407.51h0M91.49 406.56h0M92.26 407.44h0M93.02 407.44h0M93.79 408.09h0M94.55 408.49h0M95.32 408.5h0M96.09 408.48h0M96.85 409.13h0M97.62 409.38h0M98.38 410.68h0M99.15 411.23h0M99.91 411.71h0M100.68 413.02h0M101.45 413.62h0M102.21 413.82h0M102.98 414.23h0M103.74 413.11h0M104.51 414.15h0M105.28 413.04h0M106.04 414.28h0M106.81 415.57h0M107.57 415.07h0M108.34 415.18h0M109.11 416.45h0M109.87 416.95h0M110.64 417.1h0M111.4 416.4h0M112.17 416.72h0M112.94 415.09h0M113.7 415.27h0M114.47 417.15h0M115.23 417.09h0M116 417.16h0M116.77 417.88h0M117.53 416.16h0M118.3 415.08h0M119.06 414.41h0M119.83 414.4h0M120.6 415.94h0M121.36 415.65h0M122.13 415.23h0M122.89 415.5h0M123.66 416.42h0M124.43 415.32h0M125.19 414.91h0M125.96 414.96h0M126.72 414.69h0M127.49 414.66h0M128.26 417.53h0M129.02 419.61h0M129.79 420.98h0M130.55 422.33h0M131.32 422.53h0M132.09 424.04h0M132.85 426.2h0M133.62 426.58h0M134.38 428.72h0M135.15 430.11h0M135.91 430.62h0M136.68 432.04h0M137.45 433.23h0M138.21 433.86h0M138.98 435.93h0M139.74 437.01h0M140.51 438.98h0M141.28 440.19h0M142.04 441.05h0M142.81 440.32h0M143.57 440.12h0M144.34 441.47h0M145.11 441.72h0M145.87 441.11h0M146.64 442.11h0M147.4 443.63h0M148.17 444.24h0M148.94 444.62h0M149.7 444.7h0M150.47 444.99h0M151.23 444.81h0M152 444.99h0M152.77 445.22h0M153.53 445.46h0M154.3 444.34h0M155.06 444.9h0M155.83 445.2h0M156.6 445.08h0M157.36 444.68h0M158.13 444.09h0M158.89 443.94h0M159.66 443.91h0M160.43 445.2h0M161.19 445.04h0M161.96 444.61h0M162.72 444.7h0M163.49 445.78h0M164.26 445.69h0M165.02 445.79h0M165.79 444.89h0M166.55 444.65h0M167.32 444.53h0M168.09 446.19h0M168.85 444.72h0M169.62 446.3h0M170.38 447.13h0M171.15 446.16h0M171.91 447.28h0M172.68 447.02h0M173.45 445.7h0M174.21 446.14h0M174.98 445.54h0M175.74 445.05h0M176.51 445.53h0M177.28 444.89h0M178.04 444.95h0M178.81 445.15h0M179.57 446.3h0M180.34 444.3h0M181.11 444.52h0M181.87 444.29h0M182.64 444.72h0M183.4 444.41h0M184.17 444.1h0M184.94 443.45h0M185.7 442.8h0M186.47 442.14h0M187.23 442.47h0M188 443.63h0M188.77 443.06h0M189.53 443.45h0M190.3 442.61h0M191.06 442.2h0M191.83 441.48h0M192.6 442.26h0M193.36 441.42h0M194.13 442.42h0M194.89 443.72h0M195.66 443.4h0M196.43 443.18h0M197.19 441.81h0M197.96 441.49h0M198.72 442.12h0M199.49 442.02h0M200.26 442.02h0M201.02 441.15h0M201.79 439.1h0M202.55 438.52h0M203.32 437.28h0M204.09 435.49h0M204.85 433.62h0M205.62 434.24h0M206.38 434.26h0M207.15 432.97h0M207.91 431.24h0M208.68 431.43h0M209.45 430.05h0M210.21 429.99h0M210.98 427.02h0M211.74 425.94h0M212.51 424.08h0M213.28 421.79h0M214.04 420.43h0M214.81 419.84h0M215.57 420.62h0M216.34 417.94h0M217.11 416.16h0M217.87 416.41h0M218.64 414.86h0M219.4 414.63h0M220.17 414.79h0M220.94 415.96h0M221.7 414.98h0M222.47 414.28h0M223.23 414.18h0M224 414.8h0M224.77 415.62h0M225.53 414.52h0M226.3 415.71h0M227.06 414.96h0M227.83 414.17h0M228.6 413.1h0M229.36 414.49h0M230.13 413.89h0M230.89 414.78h0M231.66 414.87h0M232.43 414.36h0M233.19 415.81h0M233.96 415.98h0M234.72 416.27h0M235.49 415.79h0M236.26 415.17h0M237.02 414.21h0M237.79 413.57h0M238.55 415.1h0M239.32 414.4h0M240.09 413.31h0M240.85 413.29h0M241.62 412.84h0M242.38 412.74h0M243.15 412.3h0M243.91 410.48h0M244.68 410.2h0M245.45 408.74h0M246.21 408.19h0M246.98 409.32h0M247.74 411.3h0M248.51 413.05h0M249.28 411.43h0M250.04 410.3h0M250.81 406.35h0M251.57 408.46h0M252.34 408.33h0M253.11 407.57h0M253.87 405.55h0M254.64 404.04h0M255.4 405.29h0M256.17 403.93h0M256.94 403.06h0M257.7 404.4h0M258.47 406.96h0M259.23 407.81h0M260 408.16h0M260.77 408.34h0M261.53 412.08h0M262.3 409.4h0M263.06 410.83h0M263.83 409.63h0M264.6 412.63h0M265.36 412.63h0M266.13 413.12h0M266.89 413.09h0M267.66 411.12h0M268.43 407.53h0M269.19 402.98h0M269.96 405.38h0M270.72 406.32h0M271.49 406.96h0M272.26 409.26h0M273.02 411.49h0M273.79 414.37h0M274.55 414.01h0M275.32 415.04h0M276.09 417.53h0M276.85 418.68h0M277.62 419.64h0M278.38 418.94h0M279.15 416.49h0M279.91 415.14h0M280.68 414.72h0M281.45 413.42h0M282.21 411.24h0M282.98 408.23h0M283.74 406.19h0M284.51 408.03h0M285.28 410.62h0M286.04 410.13h0M286.81 413.67h0M287.57 412h0M288.34 414.62h0M289.11 415.35h0M289.87 417.63h0M290.64 417.69h0M291.4 417.37h0M292.17 419.82h0M292.94 419.54h0M293.7 418.69h0M294.47 416.87h0M295.23 415.42h0M296 413.25h0M44 462.46h0M44.77 461.03h0M45.53 463.15h0M46.3 463.95h0M47.06 464.56h0M47.83 466.43h0M48.6 466.93h0M49.36 468.51h0M50.13 468.15h0M50.89 468.2h0M51.66 466.63h0M52.43 466.02h0M53.19 464.21h0M53.96 464.35h0M54.72 463.83h0M55.49 465.13h0M56.26 466.1h0M57.02 465.14h0M57.79 463.53h0M58.55 462.72h0M59.32 461.42h0M60.09 461.22h0M60.85 458.95h0M61.62 460.78h0M62.38 461.11h0M63.15 460.31h0M63.91 460.74h0M64.68 462.16h0M65.45 461.26h0M66.21 461.57h0M66.98 462.79h0M67.74 463.21h0M68.51 464.12h0M69.28 463h0M70.04 461.97h0M70.81 460.51h0M71.57 459.7h0M72.34 458.68h0M73.11 459.82h0M73.87 459.15h0M74.64 458.73h0M75.4 459.45h0M76.17 457.1h0M76.94 458.33h0M77.7 456.42h0M78.47 456.8h0M79.23 454.85h0M80 452.43h0M80.77 451.63h0M81.53 451.44h0M82.3 451.59h0M83.06 451.95h0M83.83 451.1h0M84.6 451.42h0M85.36 450.57h0M86.13 448.26h0M86.89 446.12h0M87.66 445.6h0M88.43 446.22h0M89.19 445.4h0M89.96 443.88h0M90.72 443.61h0M91.49 444.31h0M92.26 441.15h0M93.02 440.46h0M93.79 438.68h0M94.55 436.87h0M95.32 436.59h0M96.09 435.62h0M96.85 435.76h0M97.62 435.06h0M98.38 432.67h0M99.15 432.28h0M99.91 430.83h0M100.68 428.14h0M101.45 426.31h0M102.21 427.06h0M102.98 427.15h0M103.74 428.1h0M104.51 428.08h0M105.28 428.55h0M106.04 429.45h0M106.81 431.67h0M107.57 433.44h0M108.34 434.64h0M109.11 436.73h0M109.87 440.16h0M110.64 442.23h0M111.4 445.48h0M112.17 449.17h0M112.94 452.84h0M113.7 454.96h0M114.47 456.85h0M115.23 460.36h0M116 461.03h0M116.77 463.87h0M117.53 467.16h0M118.3 468.77h0M119.06 469.34h0M119.83 470.87h0M120.6 474.13h0M121.36 475.77h0M122.13 477.11h0M122.89 478.59h0M123.66 478.53h0M124.43 478.04h0M125.19 480.03h0M125.96 480.71h0M126.72 481.68h0M127.49 482.25h0M128.26 484.08h0M129.02 484.47h0M129.79 485.74h0M130.55 485.76h0M131.32 486.41h0M132.09 485.51h0M132.85 485.9h0M133.62 486.09h0M134.38 487.06h0M135.15 488.05h0M135.91 489.33h0M136.68 487.56h0M137.45 488.34h0M138.21 489.82h0M138.98 490.58h0M139.74 490.31h0M140.51 490.73h0M141.28 490.04h0M142.04 491.02h0M142.81 492.08h0M143.57 492.45h0M144.34 491.09h0M145.11 491.5h0M145.87 492.78h0M146.64 493.36h0M147.4 492.82h0M148.17 492.43h0M148.94 493.11h0M149.7 492.8h0M150.47 491.43h0M151.23 491.27h0M152 492.61h0M152.77 493.01h0M153.53 493.73h0M154.3 493.69h0M155.06 492.98h0M155.83 492.35h0M156.6 491.61h0M157.36 491.65h0M158.13 492.34h0M158.89 492.65h0M159.66 493.15h0M160.43 491.69h0M161.19 492.18h0M161.96 492.5h0M162.72 494h0M163.49 493.23h0M164.26 493.22h0M165.02 493.66h0M165.79 492.37h0M166.55 491.91h0M167.32 493.7h0M168.09 494.13h0M168.85 494.83h0M169.62 494.69h0M170.38 494.74h0M171.15 494.39h0M171.91 493.62h0M172.68 494.51h0M173.45 494.25h0M174.21 494.53h0M174.98 494.21h0M175.74 493.39h0M176.51 492.89h0M177.28 493.86h0M178.04 493.78h0M178.81 492.33h0M179.57 492.52h0M180.34 492.85h0M181.11 491.86h0M181.87 492.31h0M182.64 491.74h0M183.4 492.82h0M184.17 492.64h0M184.94 492.51h0M185.7 491.34h0M186.47 491.28h0M187.23 491.71h0M188 491.5h0M188.77 492.07h0M189.53 493.11h0M190.3 492.44h0M191.06 492.94h0M191.83 493h0M192.6 492.15h0M193.36 491.99h0M194.13 492.58h0M194.89 492.46h0M195.66 491.93h0M196.43 491.12h0M197.19 490.33h0M197.96 489.7h0M198.72 489.66h0M199.49 489.71h0M200.26 490.24h0M201.02 490.64h0M201.79 489.22h0M202.55 490.2h0M203.32 490.64h0M204.09 490.16h0M204.85 489.85h0M205.62 489.81h0M206.38 489.8h0M207.15 487.83h0M207.91 488.36h0M208.68 486.97h0M209.45 485.87h0M210.21 485.91h0M210.98 485.26h0M211.74 483.89h0M212.51 484.21h0M213.28 484.41h0M214.04 482.99h0M214.81 483.52h0M215.57 482.52h0M216.34 481.75h0M217.11 481.01h0M217.87 480.7h0M218.64 478.61h0M219.4 477.16h0M220.17 476.79h0M220.94 473.96h0M221.7 471.99h0M222.47 469.59h0M223.23 468.66h0M224 465.58h0M224.77 462.68h0M225.53 459.86h0M226.3 457.39h0M227.06 454.86h0M227.83 452.52h0M228.6 450.41h0M229.36 447.48h0M230.13 445.57h0M230.89 441.52h0M231.66 439.39h0M232.43 437.84h0M233.19 437.66h0M233.96 435.08h0M234.72 435.21h0M235.49 434.76h0M236.26 432.89h0M237.02 432.31h0M237.79 429.53h0M238.55 429.08h0M239.32 427.81h0M240.09 428.98h0M240.85 429.23h0M241.62 429.34h0M242.38 430.6h0M243.15 429.89h0M243.91 428.95h0M244.68 428.91h0M245.45 428.54h0M246.21 429.82h0M246.98 433.07h0M247.74 433.41h0M248.51 435.48h0M249.28 437.08h0M250.04 441.02h0M250.81 442.58h0M251.57 443.39h0M252.34 444.74h0M253.11 447.98h0M253.87 450.49h0M254.64 450.82h0M255.4 452.17h0M256.17 451.49h0M256.94 450.3h0M257.7 451.48h0M258.47 451.12h0M259.23 450.16h0M260 450.16h0M260.77 450.42h0M261.53 449.14h0M262.3 449.92h0M263.06 450.65h0M263.83 450.62h0M264.6 454.85h0M265.36 456.75h0M266.13 457.77h0M266.89 459.01h0M267.66 458.44h0M268.43 460.53h0M269.19 462.91h0M269.96 462.69h0M270.72 461.35h0M271.49 461.41h0M272.26 462.8h0M273.02 461.86h0M273.79 460.47h0M274.55 461.46h0M275.32 463.45h0M276.09 463.22h0M276.85 462.91h0M277.62 461.66h0M278.38 462.61h0M279.15 463.1h0M279.91 462.81h0M280.68 461.43h0M281.45 464.79h0M282.21 465.86h0M282.98 469.93h0M283.74 470.67h0M284.51 471.24h0M285.28 470.47h0M286.04 468.56h0M286.81 469.18h0M287.57 469.65h0M288.34 472.52h0M289.11 470.82h0M289.87 469.78h0M290.64 469.8h0M291.4 470.19h0M292.17 468.01h0M292.94 469.48h0M293.7 469.44h0M294.47 465.71h0M295.23 466.5h0M296 465.3h0" stroke="#0a0f82" stroke-width="3.0" stroke-linecap="round" fill="none"/>
<path d="M40 52.3 40.5 52.3 41 52.3 41.5 52.3 42 52.3 42.5 52.3 43 52.3 43.5 52.3 44 52.3 44.5 52.3 45 52.3 45.5 52.29 46 52.29 46.5 52.28 47 52.28 47.5 52.27 48 52.27 48.5 52.26 49 52.26 49.5 52.25 50 52.25 50.5 52.24 51 52.24 51.5 52.23 52 52.23 52.5 52.22 53 52.22 53.5 52.21 54 52.2 54.5 52.2 55 52.19 55.5 52.19 56 52.18 56.5 52.17 57 52.17 57.5 52.16 58 52.16 58.5 52.15 59 52.14 59.5 52.14 60 52.13 60.5 52.13 61 52.12 61.5 52.11 62 52.11 62.5 52.1 63 52.09 63.5 52.09 64 52.08 64.5 52.07 65 52.07 65.5 52.06 66 52.05 66.5 52.05 67 52.04 67.5 52.03 68 52.03 68.5 52.02 69 52.01 69.5 52.01 70 52 70.5 51.99 71 51.99 71.5 51.98 72 51.97 72.5 51.97 73 51.96 73.5 51.95 74 51.95 74.5 51.94 75 51.93 75.5 51.93 76 51.92 76.5 51.91 77 51.91 77.5 51.9 78 51.89 78.5 51.89 79 51.88 79.5 51.87 80 51.87 80.5 51.86 81 51.85 81.5 51.85 82 51.84 82.5 51.83 83 51.83 83.5 51.82 84 51.81 84.5 51.8 85 51.8 85.5 51.79 86 51.78 86.5 51.77 87 51.77 87.5 51.76 88 51.75 88.5 51.74 89 51.73 89.5 51.72 90 51.71 90.5 51.71 91 51.7 91.5 51.69 92 51.68 92.5 51.67 93 51.66 93.5 51.65 94 51.64 94.5 51.63 95 51.61 95.5 51.6 96 51.59 96.5 51.58 97 51.57 97.5 51.56 98 51.54 98.5 51.53 99 51.52 99.5 51.5 100 51.49 100.5 51.47 101 51.46 101.5 51.44 102 51.42 102.5 51.4 103 51.38 103.5 51.35 104 51.33 104.5 51.3 105 51.28 105.5 51.25 106 51.22 106.5 51.19 107 51.16 107.5 51.13 108 51.1 108.5 51.07 109 51.04 109.5 51 110 50.97 110.5 50.94 111 50.9 111.5 50.87 112 50.84 112.5 50.8 113 50.77 113.5 50.73 114 50.7 114.5 50.66 115 50.63 115.5 50.59 116 50.56 116.5 50.52 117 50.49 117.5 50.46 118 50.43 118.5 50.39 119 50.36 119.5 50.33 120 50.3 120.5 50.27 121 50.25 121.5 50.22 122 50.19 122.5 50.17 123 50.15 123.5 50.12 124 50.1 124.5 50.07 125 50.05 125.5 50.02 126 49.99 126.5 49.97 127 49.93 127.5 49.9 128 49.87 128.5 49.83 129 49.78 129.5 49.73 130 49.68 130.5 49.61 131 49.53 131.5 49.44 132 49.34 132.5 49.23 133 49.12 133.5 49.01 134 48.9 134.5 48.79 135 48.68 135.5 48.58 136 48.48 136.5 48.38 137 48.27 137.5 48.17 138 48.06 138.5 47.95 139 47.83 139.5 47.71 140 47.58 140.5 47.45 141 47.32 141.5 47.2 142 47.1 142.5 47.01 143 46.95 143.5 46.9 144 46.87 144.5 46.85 145 46.84 145.5 46.84 146 46.87 146.5 46.95 147 47.08 147.5 47.29 148 47.59 148.5 47.98 149 48.48 149.5 49.1 150 49.83 150.5 50.66 151 51.56 151.5 52.5 152 53.46 152.5 54.43 153 55.39 153.5 56.33 154 57.25 154.5 58.14 155 59.01 155.5 59.84 156 60.65 156.5 61.42 157 62.15 157.5 62.85 158 63.51 158.5 64.13 159 64.71 159.5 65.26 160 65.78 160.5 66.26 161 66.71 161.5 67.14 162 67.53 162.5 67.9 163 68.24 163.5 68.53 164 68.8 164.5 69.03 165 69.23 165.5 69.41 166 69.57 166.5 69.71 167 69.83 167.5 69.93 168 69.99 168.5 70.03 169 70.03 169.5 70.01 170 69.96 170.5 69.88 171 69.79 171.5 69.67 172 69.54 172.5 69.4 173 69.24 173.5 69.06 174 68.85 174.5 68.61 175 68.32 175.5 68 176 67.64 176.5 67.23 177 66.79 177.5 66.29 178 65.75 178.5 65.15 179 64.5 179.5 63.81 180 63.07 180.5 62.3 181 61.49 181.5 60.65 182 59.79 182.5 58.9 183 58.01 183.5 57.13 184 56.28 184.5 55.46 185 54.67 185.5 53.91 186 53.18 186.5 52.48 187 51.81 187.5 51.16 188 50.55 188.5 49.97 189 49.44 189.5 48.97 190 48.55 190.5 48.19 191 47.88 191.5 47.61 192 47.4 192.5 47.24 193 47.13 193.5 47.05 194 47 194.5 46.96 195 46.94 195.5 46.94 196 46.95 196.5 46.98 197 47.03 197.5 47.1 198 47.19 198.5 47.28 199 47.39 199.5 47.49 200 47.6 200.5 47.7 201 47.8 201.5 47.88 202 47.96 202.5 48.04 203 48.11 203.5 48.18 204 48.25 204.5 48.31 205 48.38 205.5 48.44 206 48.51 206.5 48.58 207 48.64 207.5 48.71 208 48.79 208.5 48.86 209 48.94 209.5 49.03 210 49.12 210.5 49.22 211 49.31 211.5 49.41 212 49.51 212.5 49.61 213 49.7 213.5 49.78 214 49.86 214.5 49.93 215 49.99 215.5 50.04 216 50.09 216.5 50.13 217 50.18 217.5 50.22 218 50.26 218.5 50.3 219 50.34 219.5 50.38 220 50.42 220.5 50.46 221 50.49 221.5 50.53 222 50.56 222.5 50.6 223 50.63 223.5 50.66 224 50.69 224.5 50.73 225 50.76 225.5 50.79 226 50.82 226.5 50.84 227 50.87 227.5 50.9 228 50.93 228.5 50.95 229 50.98 229.5 51 230 51.03 230.5 51.05 231 51.07 231.5 51.1 232 51.12 232.5 51.14 233 51.16 233.5 51.18 234 51.2 234.5 51.22 235 51.24 235.5 51.26 236 51.28 236.5 51.3 237 51.31 237.5 51.33 238 51.35 238.5 51.36 239 51.38 239.5 51.4 240 51.41 240.5 51.43 241 51.44 241.5 51.46 242 51.47 242.5 51.49 243 51.5 243.5 51.51 244 51.53 244.5 51.54 245 51.55 245.5 51.57 246 51.58 246.5 51.59 247 51.6 247.5 51.61 248 51.62 248.5 51.64 249 51.65 249.5 51.66 250 51.67 250.5 51.68 251 51.69 251.5 51.7 252 51.71 252.5 51.72 253 51.73 253.5 51.74 254 51.75 254.5 51.76 255 51.77 255.5 51.78 256 51.78 256.5 51.79 257 51.8 257.5 51.81 258 51.82 258.5 51.83 259 51.84 259.5 51.84 260 51.85 260.5 51.86 261 51.87 261.5 51.87 262 51.88 262.5 51.89 263 51.9 263.5 51.91 264 51.91 264.5 51.92 265 51.93 265.5 51.93 266 51.94 266.5 51.95 267 51.96 267.5 51.96 268 51.97 268.5 51.98 269 51.99 269.5 51.99 270 52 270.5 52.01 271 52.01 271.5 52.02 272 52.03 272.5 52.04 273 52.04 273.5 52.05 274 52.06 274.5 52.06 275 52.07 275.5 52.08 276 52.08 276.5 52.09 277 52.1 277.5 52.1 278 52.11 278.5 52.12 279 52.12 279.5 52.13 280 52.14 280.5 52.14 281 52.15 281.5 52.16 282 52.16 282.5 52.17 283 52.17 283.5 52.18 284 52.19 284.5 52.19 285 52.2 285.5 52.2 286 52.21 286.5 52.21 287 52.22 287.5 52.23 288 52.23 288.5 52.24 289 52.24 289.5 52.25 290 52.25 290.5 52.26 291 52.26 291.5 52.27 292 52.27 292.5 52.28 293 52.28 293.5 52.29 294 52.29 294.5 52.29 295 52.3 295.5 52.3 296 52.3 296.5 52.3 297 52.3 297.5 52.3 298 52.3 298.5 52.3 299 52.3 299.5 52.3 300 52.3" stroke="#f01e14" stroke-width="1.75" fill="none" stroke-linejoin="round"/>
<path d="M40 98.2 40.5 98.2 41 98.2 41.5 98.2 42 98.2 42.5 98.2 43 98.2 43.5 98.2 44 98.2 44.5 98.2 45 98.2 45.5 98.2 46 98.2 46.5 98.2 47 98.2 47.5 98.2 48 98.2 48.5 98.2 49 98.2 49.5 98.2 50 98.2 50.5 98.2 51 98.2 51.5 98.2 52 98.19 52.5 98.19 53 98.19 53.5 98.19 54 98.19 54.5 98.19 55 98.19 55.5 98.19 56 98.19 56.5 98.19 57 98.18 57.5 98.18 58 98.18 58.5 98.18 59 98.18 59.5 98.18 60 98.18 60.5 98.17 61 98.17 61.5 98.17 62 98.17 62.5 98.17 63 98.16 63.5 98.16 64 98.16 64.5 98.16 65 98.16 65.5 98.15 66 98.15 66.5 98.15 67 98.15 67.5 98.15 68 98.14 68.5 98.14 69 98.14 69.5 98.14 70 98.13 70.5 98.13 71 98.13 71.5 98.12 72 98.12 72.5 98.12 73 98.12 73.5 98.11 74 98.11 74.5 98.11 75 98.1 75.5 98.1 76 98.1 76.5 98.09 77 98.09 77.5 98.09 78 98.08 78.5 98.08 79 98.08 79.5 98.07 80 98.07 80.5 98.07 81 98.06 81.5 98.06 82 98.06 82.5 98.05 83 98.05 83.5 98.05 84 98.04 84.5 98.04 85 98.03 85.5 98.03 86 98.03 86.5 98.02 87 98.02 87.5 98.01 88 98.01 88.5 98 89 98 89.5 98 90 97.99 90.5 97.99 91 97.98 91.5 97.98 92 97.97 92.5 97.97 93 97.97 93.5 97.96 94 97.96 94.5 97.95 95 97.95 95.5 97.94 96 97.94 96.5 97.93 97 97.93 97.5 97.92 98 97.92 98.5 97.91 99 97.91 99.5 97.9 100 97.9 100.5 97.89 101 97.88 101.5 97.88 102 97.87 102.5 97.86 103 97.85 103.5 97.84 104 97.83 104.5 97.82 105 97.8 105.5 97.79 106 97.78 106.5 97.77 107 97.75 107.5 97.74 108 97.72 108.5 97.71 109 97.69 109.5 97.67 110 97.66 110.5 97.64 111 97.62 111.5 97.6 112 97.59 112.5 97.57 113 97.55 113.5 97.53 114 97.51 114.5 97.49 115 97.47 115.5 97.45 116 97.43 116.5 97.41 117 97.39 117.5 97.37 118 97.35 118.5 97.33 119 97.31 119.5 97.29 120 97.27 120.5 97.25 121 97.23 121.5 97.21 122 97.19 122.5 97.17 123 97.15 123.5 97.13 124 97.11 124.5 97.09 125 97.07 125.5 97.06 126 97.04 126.5 97.02 127 97 127.5 96.98 128 96.97 128.5 96.95 129 96.94 129.5 96.92 130 96.9 130.5 96.89 131 96.87 131.5 96.85 132 96.84 132.5 96.82 133 96.8 133.5 96.77 134 96.75 134.5 96.72 135 96.69 135.5 96.65 136 96.61 136.5 96.57 137 96.52 137.5 96.46 138 96.4 138.5 96.34 139 96.27 139.5 96.21 140 96.14 140.5 96.08 141 96.01 141.5 95.94 142 95.86 142.5 95.79 143 95.71 143.5 95.63 144 95.55 144.5 95.47 145 95.4 145.5 95.34 146 95.29 146.5 95.26 147 95.25 147.5 95.26 148 95.29 148.5 95.35 149 95.44 149.5 95.56 150 95.72 150.5 95.93 151 96.21 151.5 96.56 152 96.97 152.5 97.43 153 97.92 153.5 98.44 154 98.98 154.5 99.54 155 100.12 155.5 100.71 156 101.31 156.5 101.91 157 102.52 157.5 103.13 158 103.74 158.5 104.33 159 104.91 159.5 105.45 160 105.95 160.5 106.41 161 106.83 161.5 107.22 162 107.57 162.5 107.89 163 108.19 163.5 108.46 164 108.7 164.5 108.92 165 109.11 165.5 109.29 166 109.45 166.5 109.6 167 109.72 167.5 109.82 168 109.89 168.5 109.93 169 109.95 169.5 109.94 170 109.91 170.5 109.86 171 109.8 171.5 109.72 172 109.62 172.5 109.51 173 109.36 173.5 109.18 174 108.96 174.5 108.69 175 108.38 175.5 108.04 176 107.67 176.5 107.27 177 106.84 177.5 106.38 178 105.88 178.5 105.34 179 104.78 179.5 104.19 180 103.6 180.5 103 181 102.41 181.5 101.81 182 101.22 182.5 100.62 183 100.03 183.5 99.46 184 98.89 184.5 98.34 185 97.81 185.5 97.29 186 96.8 186.5 96.34 187 95.95 187.5 95.64 188 95.41 188.5 95.26 189 95.17 189.5 95.11 190 95.07 190.5 95.05 191 95.03 191.5 95.03 192 95.03 192.5 95.05 193 95.09 193.5 95.15 194 95.23 194.5 95.32 195 95.43 195.5 95.55 196 95.67 196.5 95.8 197 95.91 197.5 96.02 198 96.13 198.5 96.23 199 96.32 199.5 96.41 200 96.5 200.5 96.58 201 96.67 201.5 96.75 202 96.82 202.5 96.89 203 96.95 203.5 97 204 97.04 204.5 97.06 205 97.07 205.5 97.07 206 97.06 206.5 97.05 207 97.02 207.5 97 208 96.98 208.5 96.95 209 96.93 209.5 96.92 210 96.91 210.5 96.91 211 96.91 211.5 96.91 212 96.92 212.5 96.93 213 96.94 213.5 96.95 214 96.96 214.5 96.97 215 96.99 215.5 97.01 216 97.02 216.5 97.04 217 97.06 217.5 97.08 218 97.1 218.5 97.12 219 97.15 219.5 97.17 220 97.19 220.5 97.22 221 97.24 221.5 97.26 222 97.29 222.5 97.31 223 97.33 223.5 97.36 224 97.38 224.5 97.4 225 97.42 225.5 97.45 226 97.47 226.5 97.49 227 97.51 227.5 97.52 228 97.54 228.5 97.56 229 97.57 229.5 97.59 230 97.6 230.5 97.61 231 97.62 231.5 97.63 232 97.64 232.5 97.65 233 97.66 233.5 97.68 234 97.69 234.5 97.69 235 97.7 235.5 97.71 236 97.72 236.5 97.73 237 97.74 237.5 97.75 238 97.76 238.5 97.77 239 97.78 239.5 97.78 240 97.79 240.5 97.8 241 97.81 241.5 97.82 242 97.82 242.5 97.83 243 97.84 243.5 97.85 244 97.85 244.5 97.86 245 97.87 245.5 97.88 246 97.88 246.5 97.89 247 97.9 247.5 97.91 248 97.91 248.5 97.92 249 97.93 249.5 97.93 250 97.94 250.5 97.95 251 97.96 251.5 97.96 252 97.97 252.5 97.98 253 97.99 253.5 97.99 254 98 254.5 98.01 255 98.02 255.5 98.02 256 98.03 256.5 98.04 257 98.05 257.5 98.06 258 98.07 258.5 98.07 259 98.08 259.5 98.09 260 98.1 260.5 98.11 261 98.12 261.5 98.13 262 98.14 262.5 98.15 263 98.15 263.5 98.16 264 98.17 264.5 98.18 265 98.19 265.5 98.2 266 98.21 266.5 98.22 267 98.23 267.5 98.24 268 98.25 268.5 98.26 269 98.27 269.5 98.28 270 98.29 270.5 98.3 271 98.31 271.5 98.32 272 98.33 272.5 98.34 273 98.35 273.5 98.35 274 98.36 274.5 98.37 275 98.38 275.5 98.39 276 98.4 276.5 98.41 277 98.42 277.5 98.43 278 98.44 278.5 98.45 279 98.46 279.5 98.47 280 98.48 280.5 98.49 281 98.5 281.5 98.51 282 98.53 282.5 98.54 283 98.55 283.5 98.56 284 98.57 284.5 98.58 285 98.59 285.5 98.6 286 98.61 286.5 98.62 287 98.63 287.5 98.64 288 98.65 288.5 98.66 289 98.67 289.5 98.68 290 98.69 290.5 98.7 291 98.71 291.5 98.72 292 98.74 292.5 98.75 293 98.76 293.5 98.77 294 98.78 294.5 98.78 295 98.79 295.5 98.8 296 98.8 296.5 98.8 297 98.8 297.5 98.8 298 98.8 298.5 98.8 299 98.8 299.5 98.8 300 98.8" stroke="#f01e14" stroke-width="1.75" fill="none" stroke-linejoin="round"/>
<path d="M40 143.2 40.5 143.2 41 143.2 41.5 143.2 42 143.2 42.5 143.2 43 143.2 43.5 143.2 44 143.2 44.5 143.2 45 143.2 45.5 143.2 46 143.2 46.5 143.2 47 143.2 47.5 143.2 48 143.19 48.5 143.19 49 143.19 49.5 143.19 50 143.19 50.5 143.18 51 143.18 51.5 143.18 52 143.18 52.5 143.17 53 143.17 53.5 143.16 54 143.16 54.5 143.15 55 143.15 55.5 143.14 56 143.14 56.5 143.13 57 143.13 57.5 143.12 58 143.12 58.5 143.11 59 143.1 59.5 143.1 60 143.09 60.5 143.08 61 143.07 61.5 143.07 62 143.06 62.5 143.05 63 143.04 63.5 143.03 64 143.02 64.5 143.02 65 143.01 65.5 143 66 142.99 66.5 142.98 67 142.97 67.5 142.96 68 142.95 68.5 142.94 69 142.92 69.5 142.91 70 142.9 70.5 142.89 71 142.88 71.5 142.87 72 142.85 72.5 142.84 73 142.83 73.5 142.82 74 142.8 74.5 142.79 75 142.78 75.5 142.76 76 142.75 76.5 142.74 77 142.72 77.5 142.71 78 142.69 78.5 142.68 79 142.66 79.5 142.65 80 142.63 80.5 142.62 81 142.6 81.5 142.59 82 142.57 82.5 142.56 83 142.54 83.5 142.52 84 142.51 84.5 142.49 85 142.47 85.5 142.45 86 142.44 86.5 142.42 87 142.4 87.5 142.38 88 142.37 88.5 142.35 89 142.33 89.5 142.31 90 142.29 90.5 142.27 91 142.25 91.5 142.24 92 142.22 92.5 142.2 93 142.18 93.5 142.16 94 142.14 94.5 142.12 95 142.1 95.5 142.08 96 142.06 96.5 142.04 97 142.01 97.5 141.99 98 141.97 98.5 141.95 99 141.93 99.5 141.91 100 141.88 100.5 141.86 101 141.84 101.5 141.81 102 141.78 102.5 141.75 103 141.72 103.5 141.69 104 141.65 104.5 141.62 105 141.58 105.5 141.54 106 141.5 106.5 141.46 107 141.41 107.5 141.37 108 141.32 108.5 141.27 109 141.22 109.5 141.17 110 141.11 110.5 141.06 111 141 111.5 140.95 112 140.89 112.5 140.82 113 140.76 113.5 140.7 114 140.63 114.5 140.56 115 140.5 115.5 140.43 116 140.35 116.5 140.28 117 140.2 117.5 140.13 118 140.05 118.5 139.97 119 139.89 119.5 139.81 120 139.72 120.5 139.64 121 139.55 121.5 139.46 122 139.37 122.5 139.28 123 139.19 123.5 139.09 124 138.99 124.5 138.89 125 138.78 125.5 138.66 126 138.52 126.5 138.38 127 138.22 127.5 138.05 128 137.87 128.5 137.69 129 137.5 129.5 137.31 130 137.12 130.5 136.93 131 136.73 131.5 136.53 132 136.33 132.5 136.12 133 135.9 133.5 135.68 134 135.45 134.5 135.2 135 134.94 135.5 134.66 136 134.37 136.5 134.08 137 133.83 137.5 133.62 138 133.48 138.5 133.42 139 133.47 139.5 133.61 140 133.88 140.5 134.27 141 134.8 141.5 135.5 142 136.37 142.5 137.36 143 138.45 143.5 139.6 144 140.79 144.5 141.99 145 143.2 145.5 144.41 146 145.6 146.5 146.78 147 147.91 147.5 148.99 148 150.01 148.5 150.94 149 151.79 149.5 152.54 150 153.22 150.5 153.82 151 154.35 151.5 154.83 152 155.26 152.5 155.64 153 155.98 153.5 156.29 154 156.58 154.5 156.84 155 157.09 155.5 157.31 156 157.52 156.5 157.7 157 157.88 157.5 158.04 158 158.19 158.5 158.34 159 158.48 159.5 158.61 160 158.73 160.5 158.85 161 158.95 161.5 159.04 162 159.12 162.5 159.19 163 159.25 163.5 159.3 164 159.35 164.5 159.38 165 159.42 165.5 159.45 166 159.48 166.5 159.51 167 159.53 167.5 159.55 168 159.57 168.5 159.58 169 159.59 169.5 159.59 170 159.59 170.5 159.58 171 159.57 171.5 159.55 172 159.53 172.5 159.5 173 159.46 173.5 159.42 174 159.38 174.5 159.33 175 159.27 175.5 159.21 176 159.15 176.5 159.08 177 159.01 177.5 158.93 178 158.85 178.5 158.77 179 158.68 179.5 158.59 180 158.49 180.5 158.38 181 158.26 181.5 158.12 182 157.95 182.5 157.75 183 157.52 183.5 157.26 184 156.97 184.5 156.65 185 156.3 185.5 155.93 186 155.54 186.5 155.12 187 154.68 187.5 154.2 188 153.69 188.5 153.12 189 152.49 189.5 151.8 190 151.03 190.5 150.2 191 149.32 191.5 148.4 192 147.42 192.5 146.4 193 145.32 193.5 144.18 194 142.99 194.5 141.77 195 140.58 195.5 139.46 196 138.42 196.5 137.47 197 136.61 197.5 135.83 198 135.13 198.5 134.54 199 134.07 199.5 133.75 200 133.55 200.5 133.47 201 133.48 201.5 133.55 202 133.66 202.5 133.81 203 133.97 203.5 134.15 204 134.34 204.5 134.54 205 134.74 205.5 134.94 206 135.13 206.5 135.31 207 135.49 207.5 135.66 208 135.83 208.5 135.99 209 136.17 209.5 136.34 210 136.52 210.5 136.7 211 136.88 211.5 137.06 212 137.24 212.5 137.42 213 137.61 213.5 137.79 214 137.97 214.5 138.14 215 138.32 215.5 138.49 216 138.65 216.5 138.82 217 138.97 217.5 139.12 218 139.27 218.5 139.4 219 139.53 219.5 139.65 220 139.77 220.5 139.87 221 139.96 221.5 140.05 222 140.12 222.5 140.19 223 140.25 223.5 140.3 224 140.36 224.5 140.41 225 140.45 225.5 140.5 226 140.55 226.5 140.59 227 140.64 227.5 140.68 228 140.72 228.5 140.77 229 140.81 229.5 140.84 230 140.88 230.5 140.92 231 140.96 231.5 140.99 232 141.03 232.5 141.06 233 141.09 233.5 141.12 234 141.15 234.5 141.18 235 141.21 235.5 141.24 236 141.27 236.5 141.3 237 141.33 237.5 141.35 238 141.38 238.5 141.4 239 141.43 239.5 141.45 240 141.48 240.5 141.5 241 141.52 241.5 141.55 242 141.57 242.5 141.59 243 141.61 243.5 141.63 244 141.66 244.5 141.68 245 141.7 245.5 141.72 246 141.74 246.5 141.76 247 141.78 247.5 141.8 248 141.82 248.5 141.84 249 141.86 249.5 141.88 250 141.9 250.5 141.92 251 141.94 251.5 141.96 252 141.98 252.5 142 253 142.02 253.5 142.04 254 142.06 254.5 142.08 255 142.1 255.5 142.12 256 142.14 256.5 142.16 257 142.18 257.5 142.2 258 142.22 258.5 142.24 259 142.26 259.5 142.28 260 142.29 260.5 142.31 261 142.33 261.5 142.35 262 142.37 262.5 142.39 263 142.41 263.5 142.42 264 142.44 264.5 142.46 265 142.48 265.5 142.5 266 142.51 266.5 142.53 267 142.55 267.5 142.57 268 142.58 268.5 142.6 269 142.62 269.5 142.63 270 142.65 270.5 142.67 271 142.68 271.5 142.7 272 142.71 272.5 142.73 273 142.75 273.5 142.76 274 142.78 274.5 142.79 275 142.81 275.5 142.82 276 142.83 276.5 142.85 277 142.86 277.5 142.88 278 142.89 278.5 142.9 279 142.92 279.5 142.93 280 142.94 280.5 142.95 281 142.97 281.5 142.98 282 142.99 282.5 143 283 143.01 283.5 143.02 284 143.03 284.5 143.04 285 143.05 285.5 143.06 286 143.07 286.5 143.08 287 143.09 287.5 143.1 288 143.11 288.5 143.12 289 143.13 289.5 143.13 290 143.14 290.5 143.15 291 143.16 291.5 143.16 292 143.17 292.5 143.17 293 143.18 293.5 143.19 294 143.19 294.5 143.19 295 143.2 295.5 143.2 296 143.2 296.5 143.2 297 143.2 297.5 143.2 298 143.2 298.5 143.2 299 143.2 299.5 143.2 300 143.2" stroke="#f01e14" stroke-width="1.75" fill="none" stroke-linejoin="round"/>
<path d="M40 188.7 40.5 188.7 41 188.7 41.5 188.7 42 188.7 42.5 188.7 43 188.7 43.5 188.7 44 188.7 44.5 188.7 45 188.7 45.5 188.7 46 188.7 46.5 188.7 47 188.7 47.5 188.7 48 188.7 48.5 188.7 49 188.7 49.5 188.7 50 188.7 50.5 188.7 51 188.69 51.5 188.69 52 188.69 52.5 188.69 53 188.69 53.5 188.69 54 188.69 54.5 188.69 55 188.69 55.5 188.68 56 188.68 56.5 188.68 57 188.68 57.5 188.68 58 188.68 58.5 188.67 59 188.67 59.5 188.67 60 188.67 60.5 188.66 61 188.66 61.5 188.66 62 188.66 62.5 188.65 63 188.65 63.5 188.65 64 188.65 64.5 188.64 65 188.64 65.5 188.64 66 188.63 66.5 188.63 67 188.63 67.5 188.62 68 188.62 68.5 188.62 69 188.61 69.5 188.61 70 188.6 70.5 188.6 71 188.6 71.5 188.59 72 188.59 72.5 188.58 73 188.58 73.5 188.57 74 188.57 74.5 188.57 75 188.56 75.5 188.56 76 188.55 76.5 188.55 77 188.54 77.5 188.54 78 188.53 78.5 188.52 79 188.52 79.5 188.51 80 188.51 80.5 188.5 81 188.5 81.5 188.49 82 188.48 82.5 188.48 83 188.47 83.5 188.46 84 188.46 84.5 188.45 85 188.44 85.5 188.44 86 188.43 86.5 188.42 87 188.42 87.5 188.41 88 188.4 88.5 188.39 89 188.39 89.5 188.38 90 188.37 90.5 188.36 91 188.36 91.5 188.35 92 188.34 92.5 188.33 93 188.32 93.5 188.31 94 188.31 94.5 188.3 95 188.29 95.5 188.28 96 188.27 96.5 188.26 97 188.25 97.5 188.24 98 188.23 98.5 188.22 99 188.21 99.5 188.2 100 188.19 100.5 188.17 101 188.16 101.5 188.13 102 188.11 102.5 188.08 103 188.05 103.5 188.02 104 187.98 104.5 187.94 105 187.9 105.5 187.85 106 187.8 106.5 187.75 107 187.7 107.5 187.64 108 187.58 108.5 187.51 109 187.45 109.5 187.38 110 187.31 110.5 187.23 111 187.15 111.5 187.08 112 186.99 112.5 186.91 113 186.82 113.5 186.73 114 186.64 114.5 186.55 115 186.46 115.5 186.36 116 186.26 116.5 186.16 117 186.05 117.5 185.95 118 185.84 118.5 185.73 119 185.62 119.5 185.5 120 185.37 120.5 185.22 121 185.06 121.5 184.87 122 184.67 122.5 184.45 123 184.23 123.5 184 124 183.77 124.5 183.55 125 183.34 125.5 183.14 126 182.95 126.5 182.76 127 182.58 127.5 182.4 128 182.23 128.5 182.05 129 181.88 129.5 181.71 130 181.53 130.5 181.35 131 181.17 131.5 180.98 132 180.78 132.5 180.58 133 180.38 133.5 180.2 134 180.05 134.5 179.93 135 179.87 135.5 179.86 136 179.93 136.5 180.08 137 180.32 137.5 180.68 138 181.16 138.5 181.79 139 182.58 139.5 183.5 140 184.5 140.5 185.54 141 186.58 141.5 187.6 142 188.61 142.5 189.6 143 190.58 143.5 191.54 144 192.49 144.5 193.4 145 194.28 145.5 195.12 146 195.91 146.5 196.65 147 197.35 147.5 198.01 148 198.63 148.5 199.2 149 199.72 149.5 200.21 150 200.65 150.5 201.07 151 201.45 151.5 201.81 152 202.15 152.5 202.46 153 202.75 153.5 203.01 154 203.26 154.5 203.48 155 203.7 155.5 203.89 156 204.08 156.5 204.25 157 204.42 157.5 204.57 158 204.71 158.5 204.84 159 204.96 159.5 205.08 160 205.19 160.5 205.29 161 205.39 161.5 205.49 162 205.58 162.5 205.67 163 205.75 163.5 205.82 164 205.89 164.5 205.95 165 206 165.5 206.04 166 206.08 166.5 206.1 167 206.13 167.5 206.15 168 206.16 168.5 206.17 169 206.18 169.5 206.19 170 206.18 170.5 206.17 171 206.16 171.5 206.13 172 206.09 172.5 206.04 173 205.98 173.5 205.91 174 205.84 174.5 205.76 175 205.67 175.5 205.57 176 205.47 176.5 205.36 177 205.25 177.5 205.13 178 205.01 178.5 204.88 179 204.75 179.5 204.61 180 204.47 180.5 204.3 181 204.12 181.5 203.91 182 203.68 182.5 203.44 183 203.17 183.5 202.9 184 202.62 184.5 202.33 185 202.05 185.5 201.77 186 201.49 186.5 201.23 187 200.99 187.5 200.75 188 200.53 188.5 200.31 189 200.09 189.5 199.85 190 199.6 190.5 199.31 191 198.98 191.5 198.58 192 198.1 192.5 197.52 193 196.83 193.5 196.03 194 195.15 194.5 194.19 195 193.18 195.5 192.14 196 191.06 196.5 189.95 197 188.8 197.5 187.61 198 186.4 198.5 185.21 199 184.1 199.5 183.12 200 182.31 200.5 181.65 201 181.15 201.5 180.77 202 180.5 202.5 180.33 203 180.26 203.5 180.26 204 180.31 204.5 180.42 205 180.55 205.5 180.7 206 180.87 206.5 181.05 207 181.24 207.5 181.43 208 181.62 208.5 181.8 209 182 209.5 182.19 210 182.4 210.5 182.61 211 182.83 211.5 183.06 212 183.29 212.5 183.52 213 183.75 213.5 183.97 214 184.18 214.5 184.39 215 184.58 215.5 184.76 216 184.92 216.5 185.07 217 185.2 217.5 185.32 218 185.43 218.5 185.54 219 185.64 219.5 185.74 220 185.83 220.5 185.92 221 186.01 221.5 186.1 222 186.18 222.5 186.26 223 186.34 223.5 186.41 224 186.49 224.5 186.56 225 186.62 225.5 186.69 226 186.75 226.5 186.81 227 186.87 227.5 186.92 228 186.98 228.5 187.03 229 187.08 229.5 187.12 230 187.17 230.5 187.22 231 187.26 231.5 187.3 232 187.34 232.5 187.38 233 187.42 233.5 187.46 234 187.5 234.5 187.54 235 187.58 235.5 187.61 236 187.65 236.5 187.68 237 187.72 237.5 187.75 238 187.78 238.5 187.81 239 187.84 239.5 187.87 240 187.9 240.5 187.93 241 187.96 241.5 187.98 242 188.01 242.5 188.03 243 188.05 243.5 188.07 244 188.1 244.5 188.11 245 188.13 245.5 188.15 246 188.17 246.5 188.18 247 188.2 247.5 188.21 248 188.22 248.5 188.24 249 188.25 249.5 188.26 250 188.27 250.5 188.29 251 188.3 251.5 188.31 252 188.32 252.5 188.33 253 188.35 253.5 188.36 254 188.37 254.5 188.38 255 188.39 255.5 188.41 256 188.42 256.5 188.43 257 188.44 257.5 188.45 258 188.46 258.5 188.47 259 188.48 259.5 188.49 260 188.5 260.5 188.51 261 188.52 261.5 188.53 262 188.54 262.5 188.55 263 188.56 263.5 188.57 264 188.58 264.5 188.59 265 188.6 265.5 188.61 266 188.62 266.5 188.63 267 188.64 267.5 188.65 268 188.66 268.5 188.66 269 188.67 269.5 188.68 270 188.69 270.5 188.7 271 188.7 271.5 188.71 272 188.72 272.5 188.73 273 188.73 273.5 188.74 274 188.75 274.5 188.76 275 188.76 275.5 188.77 276 188.77 276.5 188.78 277 188.79 277.5 188.79 278 188.8 278.5 188.8 279 188.81 279.5 188.82 280 188.82 280.5 188.83 281 188.83 281.5 188.84 282 188.84 282.5 188.84 283 188.85 283.5 188.85 284 188.86 284.5 188.86 285 188.86 285.5 188.87 286 188.87 286.5 188.87 287 188.88 287.5 188.88 288 188.88 288.5 188.88 289 188.89 289.5 188.89 290 188.89 290.5 188.89 291 188.89 291.5 188.9 292 188.9 292.5 188.9 293 188.9 293.5 188.9 294 188.9 294.5 188.9 295 188.9 295.5 188.9 296 188.9 296.5 188.9 297 188.9 297.5 188.9 298 188.9 298.5 188.9 299 188.9 299.5 188.9 300 188.9" stroke="#f01e14" stroke-width="1.75" fill="none" stroke-linejoin="round"/>
<path d="M40 234.1 40.5 234.1 41 234.1 41.5 234.1 42 234.1 42.5 234.1 43 234.1 43.5 234.1 44 234.1 44.5 234.1 45 234.1 45.5 234.1 46 234.1 46.5 234.1 47 234.09 47.5 234.09 48 234.09 48.5 234.08 49 234.08 49.5 234.07 50 234.07 50.5 234.06 51 234.06 51.5 234.05 52 234.04 52.5 234.03 53 234.03 53.5 234.02 54 234.01 54.5 234 55 233.99 55.5 233.98 56 233.96 56.5 233.95 57 233.94 57.5 233.93 58 233.92 58.5 233.9 59 233.89 59.5 233.88 60 233.86 60.5 233.85 61 233.83 61.5 233.82 62 233.8 62.5 233.79 63 233.77 63.5 233.75 64 233.74 64.5 233.72 65 233.7 65.5 233.68 66 233.67 66.5 233.65 67 233.63 67.5 233.61 68 233.59 68.5 233.57 69 233.56 69.5 233.54 70 233.52 70.5 233.5 71 233.48 71.5 233.46 72 233.44 72.5 233.42 73 233.4 73.5 233.38 74 233.35 74.5 233.33 75 233.3 75.5 233.28 76 233.25 76.5 233.22 77 233.19 77.5 233.15 78 233.12 78.5 233.08 79 233.05 79.5 233.01 80 232.97 80.5 232.93 81 232.89 81.5 232.85 82 232.8 82.5 232.76 83 232.71 83.5 232.67 84 232.62 84.5 232.57 85 232.52 85.5 232.47 86 232.42 86.5 232.37 87 232.32 87.5 232.27 88 232.22 88.5 232.17 89 232.11 89.5 232.06 90 232.01 90.5 231.95 91 231.9 91.5 231.84 92 231.79 92.5 231.73 93 231.68 93.5 231.62 94 231.56 94.5 231.5 95 231.44 95.5 231.38 96 231.32 96.5 231.26 97 231.19 97.5 231.12 98 231.05 98.5 230.98 99 230.91 99.5 230.83 100 230.75 100.5 230.67 101 230.58 101.5 230.5 102 230.41 102.5 230.31 103 230.22 103.5 230.11 104 230.01 104.5 229.9 105 229.78 105.5 229.65 106 229.51 106.5 229.36 107 229.2 107.5 229.02 108 228.83 108.5 228.63 109 228.42 109.5 228.2 110 227.97 110.5 227.72 111 227.46 111.5 227.18 112 226.88 112.5 226.57 113 226.25 113.5 225.92 114 225.58 114.5 225.24 115 224.89 115.5 224.54 116 224.18 116.5 223.82 117 223.45 117.5 223.07 118 222.68 118.5 222.29 119 221.9 119.5 221.49 120 221.08 120.5 220.66 121 220.24 121.5 219.8 122 219.36 122.5 218.92 123 218.47 123.5 218.03 124 217.58 124.5 217.12 125 216.66 125.5 216.18 126 215.7 126.5 215.23 127 214.79 127.5 214.42 128 214.14 128.5 213.96 129 213.89 129.5 213.96 130 214.21 130.5 214.71 131 215.56 131.5 216.82 132 218.5 132.5 220.55 133 222.88 133.5 225.36 134 227.88 134.5 230.4 135 232.89 135.5 235.34 136 237.72 136.5 239.99 137 242.09 137.5 244 138 245.72 138.5 247.26 139 248.65 139.5 249.91 140 251.07 140.5 252.15 141 253.14 141.5 254.05 142 254.86 142.5 255.59 143 256.24 143.5 256.82 144 257.35 144.5 257.83 145 258.27 145.5 258.67 146 259.04 146.5 259.38 147 259.68 147.5 259.97 148 260.23 148.5 260.48 149 260.71 149.5 260.93 150 261.13 150.5 261.32 151 261.5 151.5 261.67 152 261.82 152.5 261.95 153 262.07 153.5 262.18 154 262.28 154.5 262.37 155 262.45 155.5 262.53 156 262.6 156.5 262.67 157 262.73 157.5 262.79 158 262.84 158.5 262.89 159 262.93 159.5 262.96 160 262.99 160.5 263.02 161 263.05 161.5 263.07 162 263.09 162.5 263.12 163 263.14 163.5 263.16 164 263.18 164.5 263.19 165 263.21 165.5 263.23 166 263.24 166.5 263.25 167 263.26 167.5 263.27 168 263.28 168.5 263.29 169 263.29 169.5 263.29 170 263.29 170.5 263.29 171 263.28 171.5 263.27 172 263.26 172.5 263.24 173 263.21 173.5 263.19 174 263.16 174.5 263.12 175 263.09 175.5 263.05 176 263 176.5 262.96 177 262.91 177.5 262.86 178 262.81 178.5 262.76 179 262.71 179.5 262.65 180 262.59 180.5 262.52 181 262.45 181.5 262.37 182 262.28 182.5 262.18 183 262.07 183.5 261.95 184 261.82 184.5 261.69 185 261.54 185.5 261.39 186 261.23 186.5 261.07 187 260.89 187.5 260.71 188 260.52 188.5 260.32 189 260.11 189.5 259.89 190 259.65 190.5 259.39 191 259.1 191.5 258.78 192 258.43 192.5 258.06 193 257.65 193.5 257.23 194 256.8 194.5 256.35 195 255.88 195.5 255.41 196 254.91 196.5 254.38 197 253.81 197.5 253.18 198 252.47 198.5 251.65 199 250.68 199.5 249.56 200 248.26 200.5 246.77 201 245.07 201.5 243.17 202 241.03 202.5 238.67 203 236.08 203.5 233.32 204 230.46 204.5 227.6 205 224.88 205.5 222.38 206 220.18 206.5 218.33 207 216.84 207.5 215.7 208 214.86 208.5 214.28 209 213.92 209.5 213.73 210 213.7 210.5 213.79 211 213.99 211.5 214.28 212 214.64 212.5 215.04 213 215.47 213.5 215.94 214 216.43 214.5 216.94 215 217.45 215.5 217.97 216 218.47 216.5 218.96 217 219.44 217.5 219.91 218 220.37 218.5 220.83 219 221.27 219.5 221.7 220 222.12 220.5 222.51 221 222.9 221.5 223.26 222 223.62 222.5 223.96 223 224.29 223.5 224.61 224 224.93 224.5 225.23 225 225.52 225.5 225.79 226 226.05 226.5 226.3 227 226.54 227.5 226.76 228 226.97 228.5 227.17 229 227.36 229.5 227.54 230 227.72 230.5 227.88 231 228.05 231.5 228.2 232 228.36 232.5 228.51 233 228.65 233.5 228.8 234 228.94 234.5 229.09 235 229.23 235.5 229.37 236 229.5 236.5 229.64 237 229.76 237.5 229.89 238 230 238.5 230.11 239 230.21 239.5 230.3 240 230.39 240.5 230.47 241 230.54 241.5 230.61 242 230.68 242.5 230.74 243 230.81 243.5 230.87 244 230.93 244.5 230.99 245 231.05 245.5 231.1 246 231.16 246.5 231.21 247 231.26 247.5 231.31 248 231.36 248.5 231.41 249 231.46 249.5 231.5 250 231.55 250.5 231.59 251 231.63 251.5 231.68 252 231.72 252.5 231.76 253 231.8 253.5 231.84 254 231.87 254.5 231.91 255 231.95 255.5 231.98 256 232.02 256.5 232.06 257 232.09 257.5 232.13 258 232.16 258.5 232.2 259 232.23 259.5 232.27 260 232.3 260.5 232.33 261 232.37 261.5 232.4 262 232.44 262.5 232.47 263 232.5 263.5 232.54 264 232.57 264.5 232.6 265 232.64 265.5 232.67 266 232.7 266.5 232.74 267 232.77 267.5 232.8 268 232.83 268.5 232.86 269 232.9 269.5 232.93 270 232.96 270.5 232.99 271 233.02 271.5 233.05 272 233.08 272.5 233.11 273 233.14 273.5 233.17 274 233.2 274.5 233.23 275 233.26 275.5 233.29 276 233.31 276.5 233.34 277 233.37 277.5 233.4 278 233.42 278.5 233.45 279 233.48 279.5 233.5 280 233.53 280.5 233.55 281 233.58 281.5 233.6 282 233.63 282.5 233.65 283 233.67 283.5 233.7 284 233.72 284.5 233.74 285 233.76 285.5 233.78 286 233.8 286.5 233.82 287 233.84 287.5 233.86 288 233.88 288.5 233.9 289 233.92 289.5 233.94 290 233.95 290.5 233.97 291 233.99 291.5 234 292 234.02 292.5 234.03 293 234.05 293.5 234.06 294 234.07 294.5 234.08 295 234.09 295.5 234.1 296 234.1 296.5 234.1 297 234.1 297.5 234.1 298 234.1 298.5 234.1 299 234.1 299.5 234.1 300 234.1" stroke="#f01e14" stroke-width="1.75" fill="none" stroke-linejoin="round"/>
<path d="M40 281.1 40.5 281.1 41 281.1 41.5 281.1 42 281.1 42.5 281.1 43 281.1 43.5 281.1 44 281.1 44.5 281.1 45 281.1 45.5 281.1 46 281.1 46.5 281.1 47 281.1 47.5 281.09 48 281.09 48.5 281.09 49 281.09 49.5 281.08 50 281.08 50.5 281.07 51 281.07 51.5 281.06 52 281.06 52.5 281.05 53 281.05 53.5 281.04 54 281.03 54.5 281.03 55 281.02 55.5 281.01 56 281 56.5 280.99 57 280.99 57.5 280.98 58 280.97 58.5 280.96 59 280.95 59.5 280.94 60 280.92 60.5 280.91 61 280.9 61.5 280.89 62 280.88 62.5 280.86 63 280.85 63.5 280.84 64 280.83 64.5 280.81 65 280.8 65.5 280.78 66 280.77 66.5 280.75 67 280.74 67.5 280.72 68 280.71 68.5 280.69 69 280.67 69.5 280.66 70 280.64 70.5 280.62 71 280.61 71.5 280.59 72 280.57 72.5 280.55 73 280.54 73.5 280.52 74 280.5 74.5 280.48 75 280.46 75.5 280.44 76 280.42 76.5 280.4 77 280.38 77.5 280.36 78 280.34 78.5 280.32 79 280.3 79.5 280.28 80 280.26 80.5 280.23 81 280.21 81.5 280.19 82 280.17 82.5 280.15 83 280.12 83.5 280.1 84 280.08 84.5 280.06 85 280.03 85.5 280.01 86 279.99 86.5 279.96 87 279.94 87.5 279.92 88 279.89 88.5 279.87 89 279.84 89.5 279.82 90 279.79 90.5 279.77 91 279.75 91.5 279.72 92 279.7 92.5 279.67 93 279.65 93.5 279.62 94 279.59 94.5 279.57 95 279.54 95.5 279.52 96 279.49 96.5 279.47 97 279.44 97.5 279.41 98 279.39 98.5 279.36 99 279.34 99.5 279.31 100 279.28 100.5 279.25 101 279.21 101.5 279.18 102 279.14 102.5 279.09 103 279.05 103.5 279 104 278.95 104.5 278.9 105 278.84 105.5 278.78 106 278.73 106.5 278.67 107 278.61 107.5 278.55 108 278.49 108.5 278.43 109 278.36 109.5 278.3 110 278.24 110.5 278.18 111 278.12 111.5 278.06 112 278 112.5 277.95 113 277.89 113.5 277.84 114 277.79 114.5 277.74 115 277.69 115.5 277.65 116 277.61 116.5 277.57 117 277.54 117.5 277.5 118 277.48 118.5 277.45 119 277.43 119.5 277.42 120 277.4 120.5 277.39 121 277.38 121.5 277.38 122 277.37 122.5 277.36 123 277.35 123.5 277.35 124 277.34 124.5 277.34 125 277.33 125.5 277.32 126 277.32 126.5 277.32 127 277.31 127.5 277.31 128 277.31 128.5 277.31 129 277.31 129.5 277.32 130 277.35 130.5 277.4 131 277.48 131.5 277.59 132 277.73 132.5 277.89 133 278.08 133.5 278.29 134 278.5 134.5 278.74 135 278.98 135.5 279.25 136 279.53 136.5 279.84 137 280.18 137.5 280.53 138 280.9 138.5 281.29 139 281.69 139.5 282.11 140 282.55 140.5 283.02 141 283.5 141.5 284 142 284.52 142.5 285.04 143 285.56 143.5 286.07 144 286.58 144.5 287.09 145 287.59 145.5 288.08 146 288.58 146.5 289.08 147 289.58 147.5 290.08 148 290.59 148.5 291.12 149 291.65 149.5 292.2 150 292.76 150.5 293.33 151 293.9 151.5 294.46 152 295.01 152.5 295.55 153 296.06 153.5 296.56 154 297.03 154.5 297.5 155 297.95 155.5 298.38 156 298.81 156.5 299.22 157 299.62 157.5 300 158 300.36 158.5 300.71 159 301.05 159.5 301.38 160 301.69 160.5 302 161 302.3 161.5 302.6 162 302.87 162.5 303.13 163 303.37 163.5 303.59 164 303.77 164.5 303.93 165 304.06 165.5 304.17 166 304.26 166.5 304.34 167 304.42 167.5 304.49 168 304.54 168.5 304.59 169 304.63 169.5 304.66 170 304.67 170.5 304.66 171 304.64 171.5 304.61 172 304.55 172.5 304.49 173 304.4 173.5 304.31 174 304.2 174.5 304.08 175 303.96 175.5 303.83 176 303.68 176.5 303.53 177 303.36 177.5 303.16 178 302.95 178.5 302.7 179 302.43 179.5 302.14 180 301.83 180.5 301.5 181 301.15 181.5 300.8 182 300.43 182.5 300.04 183 299.64 183.5 299.23 184 298.78 184.5 298.32 185 297.84 185.5 297.33 186 296.81 186.5 296.28 187 295.74 187.5 295.19 188 294.63 188.5 294.06 189 293.48 189.5 292.88 190 292.27 190.5 291.65 191 291.03 191.5 290.4 192 289.77 192.5 289.15 193 288.53 193.5 287.91 194 287.3 194.5 286.69 195 286.09 195.5 285.5 196 284.92 196.5 284.37 197 283.85 197.5 283.35 198 282.88 198.5 282.44 199 282.02 199.5 281.62 200 281.24 200.5 280.87 201 280.52 201.5 280.19 202 279.86 202.5 279.55 203 279.25 203.5 278.95 204 278.67 204.5 278.4 205 278.14 205.5 277.91 206 277.7 206.5 277.52 207 277.38 207.5 277.25 208 277.15 208.5 277.07 209 277.01 209.5 276.96 210 276.93 210.5 276.92 211 276.92 211.5 276.92 212 276.93 212.5 276.94 213 276.95 213.5 276.96 214 276.97 214.5 276.99 215 277 215.5 277.02 216 277.03 216.5 277.05 217 277.06 217.5 277.08 218 277.1 218.5 277.12 219 277.14 219.5 277.17 220 277.19 220.5 277.21 221 277.24 221.5 277.27 222 277.29 222.5 277.32 223 277.35 223.5 277.37 224 277.4 224.5 277.43 225 277.46 225.5 277.49 226 277.52 226.5 277.56 227 277.59 227.5 277.62 228 277.65 228.5 277.68 229 277.72 229.5 277.75 230 277.78 230.5 277.81 231 277.85 231.5 277.88 232 277.91 232.5 277.95 233 277.98 233.5 278.01 234 278.04 234.5 278.07 235 278.11 235.5 278.14 236 278.17 236.5 278.2 237 278.23 237.5 278.26 238 278.29 238.5 278.32 239 278.34 239.5 278.37 240 278.4 240.5 278.43 241 278.45 241.5 278.48 242 278.51 242.5 278.53 243 278.56 243.5 278.58 244 278.61 244.5 278.64 245 278.66 245.5 278.69 246 278.71 246.5 278.74 247 278.77 247.5 278.79 248 278.82 248.5 278.84 249 278.87 249.5 278.9 250 278.92 250.5 278.95 251 278.97 251.5 279 252 279.03 252.5 279.05 253 279.08 253.5 279.1 254 279.13 254.5 279.15 255 279.18 255.5 279.21 256 279.23 256.5 279.26 257 279.28 257.5 279.31 258 279.33 258.5 279.36 259 279.38 259.5 279.41 260 279.43 260.5 279.46 261 279.48 261.5 279.51 262 279.53 262.5 279.56 263 279.58 263.5 279.61 264 279.63 264.5 279.66 265 279.68 265.5 279.71 266 279.73 266.5 279.76 267 279.78 267.5 279.81 268 279.83 268.5 279.86 269 279.88 269.5 279.91 270 279.93 270.5 279.96 271 279.98 271.5 280 272 280.03 272.5 280.05 273 280.08 273.5 280.1 274 280.13 274.5 280.15 275 280.17 275.5 280.2 276 280.22 276.5 280.25 277 280.27 277.5 280.29 278 280.32 278.5 280.34 279 280.36 279.5 280.39 280 280.41 280.5 280.44 281 280.46 281.5 280.48 282 280.51 282.5 280.53 283 280.55 283.5 280.58 284 280.6 284.5 280.62 285 280.65 285.5 280.67 286 280.69 286.5 280.72 287 280.74 287.5 280.76 288 280.78 288.5 280.81 289 280.83 289.5 280.85 290 280.88 290.5 280.9 291 280.92 291.5 280.94 292 280.97 292.5 280.99 293 281.01 293.5 281.03 294 281.05 294.5 281.07 295 281.08 295.5 281.09 296 281.1 296.5 281.1 297 281.1 297.5 281.1 298 281.1 298.5 281.1 299 281.1 299.5 281.1 300 281.1" stroke="#f01e14" stroke-width="1.75" fill="none" stroke-linejoin="round"/>
<path d="M40 325 40.5 325 41 325 41.5 325 42 325 42.5 325 43 325 43.5 325 44 325 44.5 325 45 324.99 45.5 324.99 46 324.98 46.5 324.97 47 324.96 47.5 324.95 48 324.94 48.5 324.93 49 324.91 49.5 324.9 50 324.88 50.5 324.86 51 324.84 51.5 324.83 52 324.81 52.5 324.78 53 324.76 53.5 324.74 54 324.72 54.5 324.69 55 324.67 55.5 324.64 56 324.61 56.5 324.59 57 324.56 57.5 324.53 58 324.5 58.5 324.47 59 324.44 59.5 324.41 60 324.38 60.5 324.34 61 324.31 61.5 324.28 62 324.24 62.5 324.21 63 324.17 63.5 324.14 64 324.1 64.5 324.07 65 324.03 65.5 323.99 66 323.95 66.5 323.92 67 323.88 67.5 323.84 68 323.8 68.5 323.76 69 323.72 69.5 323.68 70 323.64 70.5 323.6 71 323.56 71.5 323.52 72 323.48 72.5 323.44 73 323.4 73.5 323.35 74 323.31 74.5 323.26 75 323.22 75.5 323.17 76 323.12 76.5 323.06 77 323.01 77.5 322.95 78 322.89 78.5 322.84 79 322.77 79.5 322.71 80 322.65 80.5 322.58 81 322.52 81.5 322.45 82 322.38 82.5 322.31 83 322.24 83.5 322.17 84 322.1 84.5 322.03 85 321.95 85.5 321.88 86 321.8 86.5 321.73 87 321.65 87.5 321.58 88 321.5 88.5 321.42 89 321.34 89.5 321.26 90 321.19 90.5 321.11 91 321.03 91.5 320.95 92 320.87 92.5 320.79 93 320.71 93.5 320.63 94 320.56 94.5 320.48 95 320.4 95.5 320.32 96 320.24 96.5 320.16 97 320.08 97.5 320 98 319.92 98.5 319.83 99 319.75 99.5 319.66 100 319.57 100.5 319.47 101 319.37 101.5 319.27 102 319.16 102.5 319.05 103 318.93 103.5 318.8 104 318.68 104.5 318.55 105 318.42 105.5 318.29 106 318.16 106.5 318.03 107 317.9 107.5 317.77 108 317.64 108.5 317.51 109 317.38 109.5 317.24 110 317.1 110.5 316.96 111 316.83 111.5 316.71 112 316.6 112.5 316.51 113 316.43 113.5 316.38 114 316.34 114.5 316.32 115 316.31 115.5 316.3 116 316.3 116.5 316.31 117 316.33 117.5 316.36 118 316.42 118.5 316.51 119 316.63 119.5 316.79 120 316.98 120.5 317.2 121 317.45 121.5 317.74 122 318.08 122.5 318.48 123 318.94 123.5 319.47 124 320.04 124.5 320.66 125 321.32 125.5 322 126 322.72 126.5 323.47 127 324.25 127.5 325.07 128 325.91 128.5 326.76 129 327.61 129.5 328.47 130 329.31 130.5 330.16 131 331.01 131.5 331.85 132 332.7 132.5 333.55 133 334.4 133.5 335.24 134 336.07 134.5 336.89 135 337.67 135.5 338.43 136 339.16 136.5 339.86 137 340.54 137.5 341.19 138 341.82 138.5 342.42 139 342.99 139.5 343.54 140 344.06 140.5 344.55 141 345.02 141.5 345.48 142 345.91 142.5 346.32 143 346.72 143.5 347.11 144 347.47 144.5 347.83 145 348.17 145.5 348.5 146 348.82 146.5 349.13 147 349.43 147.5 349.72 148 350 148.5 350.27 149 350.53 149.5 350.79 150 351.04 150.5 351.29 151 351.54 151.5 351.77 152 352.01 152.5 352.23 153 352.44 153.5 352.65 154 352.84 154.5 353.01 155 353.17 155.5 353.32 156 353.46 156.5 353.59 157 353.71 157.5 353.82 158 353.93 158.5 354.04 159 354.14 159.5 354.24 160 354.33 160.5 354.42 161 354.5 161.5 354.58 162 354.65 162.5 354.72 163 354.79 163.5 354.85 164 354.9 164.5 354.95 165 354.99 165.5 355.04 166 355.08 166.5 355.11 167 355.15 167.5 355.19 168 355.22 168.5 355.25 169 355.29 169.5 355.32 170 355.34 170.5 355.37 171 355.39 171.5 355.42 172 355.44 172.5 355.45 173 355.47 173.5 355.48 174 355.48 174.5 355.48 175 355.47 175.5 355.44 176 355.39 176.5 355.31 177 355.22 177.5 355.11 178 354.98 178.5 354.84 179 354.68 179.5 354.52 180 354.36 180.5 354.2 181 354.03 181.5 353.87 182 353.7 182.5 353.53 183 353.36 183.5 353.18 184 352.99 184.5 352.79 185 352.59 185.5 352.38 186 352.16 186.5 351.92 187 351.68 187.5 351.43 188 351.16 188.5 350.88 189 350.58 189.5 350.26 190 349.92 190.5 349.57 191 349.2 191.5 348.81 192 348.4 192.5 347.98 193 347.54 193.5 347.07 194 346.58 194.5 346.06 195 345.51 195.5 344.94 196 344.36 196.5 343.77 197 343.18 197.5 342.58 198 341.97 198.5 341.36 199 340.75 199.5 340.12 200 339.49 200.5 338.84 201 338.18 201.5 337.5 202 336.81 202.5 336.09 203 335.37 203.5 334.63 204 333.88 204.5 333.12 205 332.36 205.5 331.6 206 330.84 206.5 330.08 207 329.32 207.5 328.55 208 327.79 208.5 327.04 209 326.31 209.5 325.6 210 324.91 210.5 324.25 211 323.6 211.5 322.97 212 322.36 212.5 321.78 213 321.23 213.5 320.71 214 320.23 214.5 319.78 215 319.36 215.5 318.96 216 318.59 216.5 318.25 217 317.93 217.5 317.63 218 317.37 218.5 317.13 219 316.91 219.5 316.72 220 316.55 220.5 316.4 221 316.29 221.5 316.21 222 316.17 222.5 316.16 223 316.18 223.5 316.22 224 316.27 224.5 316.34 225 316.41 225.5 316.5 226 316.58 226.5 316.67 227 316.76 227.5 316.86 228 316.95 228.5 317.04 229 317.13 229.5 317.22 230 317.31 230.5 317.41 231 317.51 231.5 317.61 232 317.72 232.5 317.82 233 317.93 233.5 318.04 234 318.14 234.5 318.25 235 318.35 235.5 318.46 236 318.56 236.5 318.67 237 318.78 237.5 318.89 238 319 238.5 319.11 239 319.22 239.5 319.33 240 319.45 240.5 319.56 241 319.66 241.5 319.77 242 319.87 242.5 319.97 243 320.06 243.5 320.15 244 320.24 244.5 320.32 245 320.39 245.5 320.46 246 320.53 246.5 320.6 247 320.66 247.5 320.73 248 320.79 248.5 320.85 249 320.91 249.5 320.97 250 321.02 250.5 321.08 251 321.14 251.5 321.19 252 321.24 252.5 321.29 253 321.35 253.5 321.4 254 321.45 254.5 321.5 255 321.54 255.5 321.59 256 321.64 256.5 321.68 257 321.73 257.5 321.77 258 321.82 258.5 321.86 259 321.9 259.5 321.95 260 321.99 260.5 322.03 261 322.07 261.5 322.11 262 322.16 262.5 322.2 263 322.24 263.5 322.28 264 322.32 264.5 322.36 265 322.4 265.5 322.44 266 322.48 266.5 322.52 267 322.56 267.5 322.6 268 322.64 268.5 322.68 269 322.72 269.5 322.76 270 322.8 270.5 322.84 271 322.88 271.5 322.92 272 322.96 272.5 323 273 323.04 273.5 323.08 274 323.12 274.5 323.16 275 323.2 275.5 323.24 276 323.28 276.5 323.32 277 323.36 277.5 323.4 278 323.43 278.5 323.47 279 323.51 279.5 323.55 280 323.59 280.5 323.62 281 323.66 281.5 323.7 282 323.73 282.5 323.77 283 323.81 283.5 323.84 284 323.88 284.5 323.91 285 323.95 285.5 323.98 286 324.02 286.5 324.05 287 324.09 287.5 324.12 288 324.15 288.5 324.19 289 324.22 289.5 324.25 290 324.29 290.5 324.32 291 324.35 291.5 324.38 292 324.41 292.5 324.45 293 324.48 293.5 324.51 294 324.53 294.5 324.56 295 324.58 295.5 324.59 296 324.6 296.5 324.6 297 324.6 297.5 324.6 298 324.6 298.5 324.6 299 324.6 299.5 324.6 300 324.6" stroke="#f01e14" stroke-width="1.75" fill="none" stroke-linejoin="round"/>
<path d="M40 371.7 40.5 371.7 41 371.7 41.5 371.7 42 371.7 42.5 371.7 43 371.7 43.5 371.7 44 371.69 44.5 371.68 45 371.66 45.5 371.64 46 371.6 46.5 371.56 47 371.52 47.5 371.47 48 371.43 48.5 371.39 49 371.34 49.5 371.3 50 371.26 50.5 371.21 51 371.17 51.5 371.13 52 371.09 52.5 371.04 53 371 53.5 370.96 54 370.92 54.5 370.88 55 370.84 55.5 370.8 56 370.76 56.5 370.72 57 370.68 57.5 370.65 58 370.61 58.5 370.57 59 370.54 59.5 370.5 60 370.47 60.5 370.43 61 370.4 61.5 370.37 62 370.34 62.5 370.31 63 370.28 63.5 370.25 64 370.22 64.5 370.19 65 370.15 65.5 370.12 66 370.09 66.5 370.06 67 370.03 67.5 369.99 68 369.96 68.5 369.92 69 369.89 69.5 369.85 70 369.81 70.5 369.77 71 369.72 71.5 369.68 72 369.63 72.5 369.58 73 369.53 73.5 369.48 74 369.43 74.5 369.37 75 369.32 75.5 369.26 76 369.2 76.5 369.14 77 369.07 77.5 369.01 78 368.94 78.5 368.88 79 368.81 79.5 368.74 80 368.67 80.5 368.6 81 368.52 81.5 368.45 82 368.37 82.5 368.3 83 368.22 83.5 368.14 84 368.06 84.5 367.98 85 367.89 85.5 367.8 86 367.71 86.5 367.61 87 367.51 87.5 367.41 88 367.31 88.5 367.2 89 367.09 89.5 366.99 90 366.88 90.5 366.77 91 366.66 91.5 366.55 92 366.45 92.5 366.35 93 366.25 93.5 366.15 94 366.06 94.5 365.97 95 365.89 95.5 365.81 96 365.72 96.5 365.64 97 365.55 97.5 365.46 98 365.36 98.5 365.25 99 365.14 99.5 365 100 364.85 100.5 364.68 101 364.48 101.5 364.26 102 364.01 102.5 363.74 103 363.46 103.5 363.15 104 362.84 104.5 362.51 105 362.16 105.5 361.8 106 361.42 106.5 361.02 107 360.6 107.5 360.17 108 359.73 108.5 359.3 109 358.86 109.5 358.44 110 358.02 110.5 357.62 111 357.22 111.5 356.82 112 356.44 112.5 356.05 113 355.68 113.5 355.31 114 354.94 114.5 354.58 115 354.22 115.5 353.85 116 353.49 116.5 353.12 117 352.77 117.5 352.42 118 352.11 118.5 351.83 119 351.59 119.5 351.4 120 351.25 120.5 351.14 121 351.07 121.5 351.06 122 351.12 122.5 351.3 123 351.65 123.5 352.2 124 352.98 124.5 354 125 355.28 125.5 356.77 126 358.44 126.5 360.25 127 362.15 127.5 364.11 128 366.09 128.5 368.07 129 370.04 129.5 371.96 130 373.83 130.5 375.63 131 377.34 131.5 378.94 132 380.43 132.5 381.82 133 383.11 133.5 384.32 134 385.45 134.5 386.52 135 387.54 135.5 388.49 136 389.4 136.5 390.25 137 391.05 137.5 391.79 138 392.49 138.5 393.15 139 393.76 139.5 394.34 140 394.88 140.5 395.37 141 395.83 141.5 396.26 142 396.66 142.5 397.04 143 397.39 143.5 397.73 144 398.04 144.5 398.33 145 398.6 145.5 398.84 146 399.06 146.5 399.27 147 399.46 147.5 399.64 148 399.79 148.5 399.94 149 400.07 149.5 400.18 150 400.27 150.5 400.36 151 400.43 151.5 400.49 152 400.55 152.5 400.61 153 400.66 153.5 400.71 154 400.76 154.5 400.8 155 400.84 155.5 400.88 156 400.92 156.5 400.96 157 400.99 157.5 401.03 158 401.06 158.5 401.1 159 401.13 159.5 401.17 160 401.2 160.5 401.24 161 401.28 161.5 401.32 162 401.36 162.5 401.39 163 401.43 163.5 401.47 164 401.51 164.5 401.55 165 401.59 165.5 401.62 166 401.65 166.5 401.68 167 401.71 167.5 401.73 168 401.75 168.5 401.77 169 401.78 169.5 401.79 170 401.79 170.5 401.79 171 401.78 171.5 401.77 172 401.75 172.5 401.73 173 401.7 173.5 401.67 174 401.64 174.5 401.6 175 401.56 175.5 401.52 176 401.48 176.5 401.44 177 401.39 177.5 401.34 178 401.29 178.5 401.25 179 401.2 179.5 401.15 180 401.1 180.5 401.05 181 400.99 181.5 400.94 182 400.88 182.5 400.81 183 400.75 183.5 400.68 184 400.61 184.5 400.54 185 400.46 185.5 400.39 186 400.3 186.5 400.22 187 400.14 187.5 400.05 188 399.96 188.5 399.88 189 399.78 189.5 399.69 190 399.6 190.5 399.5 191 399.41 191.5 399.31 192 399.2 192.5 399.09 193 398.97 193.5 398.84 194 398.69 194.5 398.52 195 398.33 195.5 398.11 196 397.85 196.5 397.56 197 397.24 197.5 396.89 198 396.52 198.5 396.13 199 395.72 199.5 395.29 200 394.84 200.5 394.36 201 393.85 201.5 393.31 202 392.73 202.5 392.12 203 391.46 203.5 390.75 204 389.97 204.5 389.13 205 388.19 205.5 387.14 206 385.97 206.5 384.65 207 383.2 207.5 381.6 208 379.87 208.5 378.01 209 376.01 209.5 373.92 210 371.74 210.5 369.52 211 367.28 211.5 365.06 212 362.9 212.5 360.84 213 358.91 213.5 357.15 214 355.59 214.5 354.26 215 353.2 215.5 352.42 216 351.9 216.5 351.59 217 351.47 217.5 351.48 218 351.61 218.5 351.81 219 352.09 219.5 352.41 220 352.78 220.5 353.18 221 353.61 221.5 354.06 222 354.52 222.5 354.99 223 355.45 223.5 355.92 224 356.39 224.5 356.85 225 357.31 225.5 357.77 226 358.21 226.5 358.63 227 359.03 227.5 359.41 228 359.78 228.5 360.13 229 360.46 229.5 360.79 230 361.1 230.5 361.4 231 361.69 231.5 361.96 232 362.23 232.5 362.48 233 362.72 233.5 362.95 234 363.18 234.5 363.39 235 363.6 235.5 363.8 236 364 236.5 364.19 237 364.37 237.5 364.55 238 364.72 238.5 364.89 239 365.06 239.5 365.22 240 365.38 240.5 365.54 241 365.69 241.5 365.84 242 365.98 242.5 366.11 243 366.24 243.5 366.37 244 366.48 244.5 366.59 245 366.69 245.5 366.78 246 366.87 246.5 366.96 247 367.04 247.5 367.12 248 367.19 248.5 367.27 249 367.34 249.5 367.41 250 367.48 250.5 367.55 251 367.61 251.5 367.68 252 367.74 252.5 367.8 253 367.86 253.5 367.91 254 367.97 254.5 368.03 255 368.08 255.5 368.13 256 368.19 256.5 368.24 257 368.29 257.5 368.34 258 368.39 258.5 368.45 259 368.5 259.5 368.55 260 368.6 260.5 368.65 261 368.7 261.5 368.75 262 368.8 262.5 368.86 263 368.91 263.5 368.96 264 369.01 264.5 369.06 265 369.11 265.5 369.16 266 369.21 266.5 369.26 267 369.3 267.5 369.35 268 369.4 268.5 369.45 269 369.5 269.5 369.55 270 369.59 270.5 369.64 271 369.69 271.5 369.73 272 369.78 272.5 369.83 273 369.87 273.5 369.92 274 369.96 274.5 370.01 275 370.05 275.5 370.1 276 370.14 276.5 370.19 277 370.23 277.5 370.27 278 370.31 278.5 370.36 279 370.4 279.5 370.44 280 370.48 280.5 370.52 281 370.56 281.5 370.6 282 370.64 282.5 370.68 283 370.72 283.5 370.76 284 370.79 284.5 370.83 285 370.87 285.5 370.9 286 370.94 286.5 370.98 287 371.01 287.5 371.05 288 371.08 288.5 371.11 289 371.15 289.5 371.18 290 371.21 290.5 371.24 291 371.27 291.5 371.3 292 371.33 292.5 371.36 293 371.39 293.5 371.42 294 371.44 294.5 371.46 295 371.48 295.5 371.49 296 371.5 296.5 371.5 297 371.5 297.5 371.5 298 371.5 298.5 371.5 299 371.5 299.5 371.5 300 371.5" stroke="#f01e14" stroke-width="1.75" fill="none" stroke-linejoin="round"/>
<path d="M40 415.7 40.5 415.7 41 415.7 41.5 415.7 42 415.7 42.5 415.7 43 415.7 43.5 415.7 44 415.7 44.5 415.69 45 415.68 45.5 415.67 46 415.65 46.5 415.62 47 415.6 47.5 415.57 48 415.55 48.5 415.52 49 415.49 49.5 415.46 50 415.44 50.5 415.41 51 415.38 51.5 415.35 52 415.32 52.5 415.29 53 415.26 53.5 415.23 54 415.2 54.5 415.17 55 415.13 55.5 415.1 56 415.07 56.5 415.04 57 415 57.5 414.97 58 414.94 58.5 414.9 59 414.87 59.5 414.83 60 414.8 60.5 414.76 61 414.73 61.5 414.69 62 414.65 62.5 414.62 63 414.58 63.5 414.54 64 414.51 64.5 414.47 65 414.43 65.5 414.39 66 414.36 66.5 414.32 67 414.28 67.5 414.24 68 414.2 68.5 414.16 69 414.12 69.5 414.08 70 414.04 70.5 414 71 413.96 71.5 413.92 72 413.88 72.5 413.84 73 413.8 73.5 413.76 74 413.72 74.5 413.67 75 413.63 75.5 413.59 76 413.55 76.5 413.5 77 413.46 77.5 413.42 78 413.37 78.5 413.33 79 413.28 79.5 413.23 80 413.19 80.5 413.14 81 413.09 81.5 413.04 82 413 82.5 412.95 83 412.9 83.5 412.84 84 412.79 84.5 412.74 85 412.69 85.5 412.64 86 412.58 86.5 412.53 87 412.47 87.5 412.41 88 412.36 88.5 412.3 89 412.24 89.5 412.18 90 412.12 90.5 412.06 91 411.99 91.5 411.92 92 411.84 92.5 411.75 93 411.66 93.5 411.57 94 411.47 94.5 411.37 95 411.27 95.5 411.17 96 411.07 96.5 410.98 97 410.9 97.5 410.82 98 410.76 98.5 410.7 99 410.67 99.5 410.64 100 410.63 100.5 410.63 101 410.65 101.5 410.68 102 410.71 102.5 410.76 103 410.81 103.5 410.87 104 410.93 104.5 411 105 411.07 105.5 411.15 106 411.23 106.5 411.33 107 411.43 107.5 411.54 108 411.67 108.5 411.8 109 411.93 109.5 412.08 110 412.23 110.5 412.38 111 412.54 111.5 412.71 112 412.88 112.5 413.06 113 413.25 113.5 413.46 114 413.67 114.5 413.89 115 414.13 115.5 414.37 116 414.64 116.5 414.92 117 415.22 117.5 415.53 118 415.87 118.5 416.23 119 416.6 119.5 417 120 417.41 120.5 417.84 121 418.29 121.5 418.76 122 419.26 122.5 419.77 123 420.3 123.5 420.83 124 421.35 124.5 421.87 125 422.38 125.5 422.88 126 423.37 126.5 423.86 127 424.35 127.5 424.84 128 425.33 128.5 425.82 129 426.31 129.5 426.81 130 427.32 130.5 427.82 131 428.34 131.5 428.85 132 429.36 132.5 429.88 133 430.38 133.5 430.89 134 431.39 134.5 431.88 135 432.38 135.5 432.87 136 433.35 136.5 433.84 137 434.33 137.5 434.82 138 435.32 138.5 435.82 139 436.33 139.5 436.85 140 437.37 140.5 437.88 141 438.38 141.5 438.86 142 439.33 142.5 439.77 143 440.19 143.5 440.6 144 440.99 144.5 441.37 145 441.73 145.5 442.08 146 442.4 146.5 442.71 147 443 147.5 443.26 148 443.51 148.5 443.73 149 443.94 149.5 444.14 150 444.33 150.5 444.5 151 444.66 151.5 444.82 152 444.97 152.5 445.11 153 445.24 153.5 445.37 154 445.49 154.5 445.61 155 445.73 155.5 445.84 156 445.95 156.5 446.05 157 446.15 157.5 446.24 158 446.32 158.5 446.4 159 446.47 159.5 446.53 160 446.59 160.5 446.64 161 446.69 161.5 446.74 162 446.78 162.5 446.82 163 446.87 163.5 446.91 164 446.94 164.5 446.98 165 447.01 165.5 447.04 166 447.07 166.5 447.1 167 447.12 167.5 447.14 168 447.16 168.5 447.17 169 447.18 169.5 447.19 170 447.19 170.5 447.19 171 447.19 171.5 447.19 172 447.18 172.5 447.17 173 447.16 173.5 447.14 174 447.13 174.5 447.11 175 447.09 175.5 447.07 176 447.05 176.5 447.02 177 447 177.5 446.97 178 446.94 178.5 446.9 179 446.86 179.5 446.82 180 446.76 180.5 446.69 181 446.6 181.5 446.48 182 446.34 182.5 446.17 183 446 183.5 445.8 184 445.6 184.5 445.39 185 445.18 185.5 444.97 186 444.75 186.5 444.54 187 444.31 187.5 444.09 188 443.85 188.5 443.61 189 443.35 189.5 443.1 190 442.83 190.5 442.56 191 442.28 191.5 442 192 441.71 192.5 441.42 193 441.12 193.5 440.81 194 440.49 194.5 440.16 195 439.83 195.5 439.49 196 439.14 196.5 438.79 197 438.43 197.5 438.06 198 437.68 198.5 437.3 199 436.9 199.5 436.5 200 436.08 200.5 435.66 201 435.23 201.5 434.8 202 434.36 202.5 433.91 203 433.46 203.5 433 204 432.53 204.5 432.06 205 431.58 205.5 431.09 206 430.59 206.5 430.08 207 429.57 207.5 429.04 208 428.5 208.5 427.94 209 427.37 209.5 426.79 210 426.19 210.5 425.58 211 424.97 211.5 424.35 212 423.74 212.5 423.14 213 422.55 213.5 421.96 214 421.38 214.5 420.8 215 420.23 215.5 419.67 216 419.12 216.5 418.59 217 418.08 217.5 417.59 218 417.14 218.5 416.7 219 416.28 219.5 415.89 220 415.5 220.5 415.14 221 414.8 221.5 414.47 222 414.17 222.5 413.89 223 413.64 223.5 413.4 224 413.17 224.5 412.96 225 412.76 225.5 412.57 226 412.39 226.5 412.23 227 412.07 227.5 411.93 228 411.8 228.5 411.68 229 411.58 229.5 411.48 230 411.39 230.5 411.3 231 411.22 231.5 411.15 232 411.08 232.5 411.01 233 410.96 233.5 410.91 234 410.86 234.5 410.82 235 410.79 235.5 410.76 236 410.73 236.5 410.7 237 410.68 237.5 410.66 238 410.64 238.5 410.63 239 410.62 239.5 410.61 240 410.61 240.5 410.61 241 410.62 241.5 410.63 242 410.65 242.5 410.67 243 410.69 243.5 410.72 244 410.75 244.5 410.78 245 410.81 245.5 410.85 246 410.88 246.5 410.92 247 410.96 247.5 411 248 411.04 248.5 411.08 249 411.12 249.5 411.16 250 411.2 250.5 411.24 251 411.28 251.5 411.32 252 411.36 252.5 411.41 253 411.45 253.5 411.5 254 411.55 254.5 411.59 255 411.64 255.5 411.7 256 411.75 256.5 411.8 257 411.85 257.5 411.91 258 411.96 258.5 412.02 259 412.07 259.5 412.13 260 412.18 260.5 412.24 261 412.3 261.5 412.36 262 412.41 262.5 412.47 263 412.53 263.5 412.59 264 412.64 264.5 412.7 265 412.76 265.5 412.81 266 412.87 266.5 412.93 267 412.98 267.5 413.04 268 413.09 268.5 413.14 269 413.2 269.5 413.25 270 413.3 270.5 413.35 271 413.4 271.5 413.45 272 413.5 272.5 413.55 273 413.6 273.5 413.65 274 413.7 274.5 413.75 275 413.8 275.5 413.85 276 413.9 276.5 413.95 277 414 277.5 414.04 278 414.09 278.5 414.14 279 414.19 279.5 414.24 280 414.29 280.5 414.34 281 414.38 281.5 414.43 282 414.48 282.5 414.53 283 414.58 283.5 414.63 284 414.67 284.5 414.72 285 414.77 285.5 414.82 286 414.86 286.5 414.91 287 414.96 287.5 415.01 288 415.05 288.5 415.1 289 415.15 289.5 415.19 290 415.24 290.5 415.29 291 415.33 291.5 415.38 292 415.42 292.5 415.47 293 415.52 293.5 415.56 294 415.6 294.5 415.64 295 415.66 295.5 415.68 296 415.69 296.5 415.7 297 415.7 297.5 415.7 298 415.7 298.5 415.7 299 415.7 299.5 415.7 300 415.7" stroke="#f01e14" stroke-width="1.75" fill="none" stroke-linejoin="round"/>
<path d="M40 460.6 40.5 460.6 41 460.6 41.5 460.6 42 460.6 42.5 460.6 43 460.6 43.5 460.59 44 460.58 44.5 460.56 45 460.51 45.5 460.45 46 460.37 46.5 460.27 47 460.17 47.5 460.06 48 459.96 48.5 459.85 49 459.75 49.5 459.65 50 459.54 50.5 459.44 51 459.34 51.5 459.24 52 459.14 52.5 459.04 53 458.95 53.5 458.85 54 458.75 54.5 458.66 55 458.56 55.5 458.47 56 458.38 56.5 458.29 57 458.19 57.5 458.1 58 458.01 58.5 457.92 59 457.84 59.5 457.75 60 457.66 60.5 457.57 61 457.49 61.5 457.4 62 457.32 62.5 457.23 63 457.15 63.5 457.07 64 456.98 64.5 456.9 65 456.82 65.5 456.75 66 456.67 66.5 456.6 67 456.53 67.5 456.46 68 456.39 68.5 456.32 69 456.25 69.5 456.18 70 456.11 70.5 456.04 71 455.97 71.5 455.89 72 455.81 72.5 455.73 73 455.64 73.5 455.55 74 455.45 74.5 455.34 75 455.23 75.5 455.11 76 454.99 76.5 454.85 77 454.71 77.5 454.56 78 454.41 78.5 454.26 79 454.09 79.5 453.93 80 453.76 80.5 453.59 81 453.41 81.5 453.22 82 453.03 82.5 452.84 83 452.64 83.5 452.43 84 452.21 84.5 451.99 85 451.76 85.5 451.53 86 451.29 86.5 451.04 87 450.78 87.5 450.52 88 450.24 88.5 449.96 89 449.67 89.5 449.37 90 449.06 90.5 448.74 91 448.4 91.5 448.05 92 447.69 92.5 447.31 93 446.91 93.5 446.49 94 446.06 94.5 445.61 95 445.14 95.5 444.67 96 444.18 96.5 443.69 97 443.18 97.5 442.67 98 442.13 98.5 441.57 99 440.99 99.5 440.4 100 439.81 100.5 439.23 101 438.68 101.5 438.16 102 437.69 102.5 437.26 103 436.88 103.5 436.56 104 436.29 104.5 436.12 105 436.09 105.5 436.22 106 436.56 106.5 437.13 107 437.93 107.5 438.96 108 440.26 108.5 441.82 109 443.64 109.5 445.64 110 447.76 110.5 449.94 111 452.14 111.5 454.38 112 456.65 112.5 458.98 113 461.33 113.5 463.66 114 465.88 114.5 467.93 115 469.79 115.5 471.47 116 473.01 116.5 474.46 117 475.83 117.5 477.12 118 478.31 118.5 479.39 119 480.37 119.5 481.25 120 482.06 120.5 482.79 121 483.46 121.5 484.06 122 484.61 122.5 485.11 123 485.58 123.5 486.01 124 486.43 124.5 486.83 125 487.21 125.5 487.56 126 487.9 126.5 488.22 127 488.52 127.5 488.8 128 489.05 128.5 489.29 129 489.5 129.5 489.69 130 489.87 130.5 490.03 131 490.18 131.5 490.32 132 490.45 132.5 490.58 133 490.69 133.5 490.81 134 490.91 134.5 491.02 135 491.11 135.5 491.21 136 491.3 136.5 491.38 137 491.46 137.5 491.54 138 491.62 138.5 491.69 139 491.76 139.5 491.83 140 491.9 140.5 491.96 141 492.03 141.5 492.09 142 492.16 142.5 492.22 143 492.28 143.5 492.34 144 492.39 144.5 492.45 145 492.5 145.5 492.55 146 492.6 146.5 492.65 147 492.69 147.5 492.73 148 492.77 148.5 492.81 149 492.84 149.5 492.87 150 492.9 150.5 492.92 151 492.95 151.5 492.97 152 493 152.5 493.02 153 493.04 153.5 493.06 154 493.09 154.5 493.11 155 493.13 155.5 493.15 156 493.17 156.5 493.19 157 493.21 157.5 493.23 158 493.25 158.5 493.27 159 493.29 159.5 493.3 160 493.32 160.5 493.34 161 493.35 161.5 493.37 162 493.38 162.5 493.4 163 493.41 163.5 493.42 164 493.43 164.5 493.44 165 493.45 165.5 493.46 166 493.47 166.5 493.47 167 493.48 167.5 493.49 168 493.49 168.5 493.49 169 493.5 169.5 493.5 170 493.5 170.5 493.5 171 493.5 171.5 493.49 172 493.49 172.5 493.49 173 493.48 173.5 493.48 174 493.47 174.5 493.46 175 493.46 175.5 493.45 176 493.44 176.5 493.43 177 493.42 177.5 493.4 178 493.39 178.5 493.38 179 493.36 179.5 493.35 180 493.33 180.5 493.32 181 493.3 181.5 493.28 182 493.26 182.5 493.25 183 493.23 183.5 493.21 184 493.19 184.5 493.17 185 493.14 185.5 493.12 186 493.1 186.5 493.08 187 493.05 187.5 493.03 188 493 188.5 492.98 189 492.95 189.5 492.92 190 492.89 190.5 492.86 191 492.82 191.5 492.77 192 492.72 192.5 492.66 193 492.59 193.5 492.52 194 492.44 194.5 492.35 195 492.26 195.5 492.17 196 492.07 196.5 491.97 197 491.87 197.5 491.76 198 491.65 198.5 491.53 199 491.42 199.5 491.3 200 491.18 200.5 491.06 201 490.94 201.5 490.82 202 490.7 202.5 490.58 203 490.46 203.5 490.35 204 490.23 204.5 490.12 205 490.01 205.5 489.9 206 489.79 206.5 489.68 207 489.57 207.5 489.46 208 489.34 208.5 489.22 209 489.08 209.5 488.93 210 488.76 210.5 488.58 211 488.37 211.5 488.13 212 487.87 212.5 487.59 213 487.28 213.5 486.94 214 486.59 214.5 486.22 215 485.83 215.5 485.42 216 484.99 216.5 484.53 217 484.04 217.5 483.5 218 482.93 218.5 482.29 219 481.6 219.5 480.83 220 479.96 220.5 478.98 221 477.87 221.5 476.62 222 475.21 222.5 473.62 223 471.86 223.5 469.92 224 467.84 224.5 465.66 225 463.39 225.5 461.08 226 458.73 226.5 456.37 227 454.03 227.5 451.71 228 449.43 228.5 447.23 229 445.13 229.5 443.21 230 441.51 230.5 440.09 231 438.95 231.5 438.09 232 437.5 232.5 437.13 233 436.94 233.5 436.86 234 436.85 234.5 436.9 235 437.02 235.5 437.24 236 437.57 236.5 438 237 438.51 237.5 439.05 238 439.6 238.5 440.13 239 440.63 239.5 441.13 240 441.62 240.5 442.11 241 442.61 241.5 443.12 242 443.63 242.5 444.14 243 444.65 243.5 445.14 244 445.63 244.5 446.1 245 446.56 245.5 447 246 447.44 246.5 447.86 247 448.27 247.5 448.67 248 449.06 248.5 449.44 249 449.81 249.5 450.17 250 450.52 250.5 450.86 251 451.19 251.5 451.51 252 451.83 252.5 452.13 253 452.42 253.5 452.7 254 452.97 254.5 453.23 255 453.47 255.5 453.7 256 453.93 256.5 454.14 257 454.35 257.5 454.55 258 454.74 258.5 454.93 259 455.12 259.5 455.29 260 455.47 260.5 455.64 261 455.82 261.5 455.99 262 456.15 262.5 456.32 263 456.48 263.5 456.64 264 456.8 264.5 456.95 265 457.1 265.5 457.25 266 457.39 266.5 457.53 267 457.66 267.5 457.78 268 457.9 268.5 458.02 269 458.13 269.5 458.23 270 458.33 270.5 458.43 271 458.53 271.5 458.62 272 458.71 272.5 458.8 273 458.88 273.5 458.97 274 459.05 274.5 459.12 275 459.2 275.5 459.27 276 459.34 276.5 459.41 277 459.47 277.5 459.53 278 459.58 278.5 459.64 279 459.69 279.5 459.73 280 459.78 280.5 459.83 281 459.87 281.5 459.92 282 459.96 282.5 460.01 283 460.05 283.5 460.09 284 460.13 284.5 460.17 285 460.21 285.5 460.25 286 460.29 286.5 460.33 287 460.36 287.5 460.4 288 460.43 288.5 460.46 289 460.49 289.5 460.52 290 460.54 290.5 460.57 291 460.59 291.5 460.61 292 460.63 292.5 460.65 293 460.66 293.5 460.67 294 460.68 294.5 460.69 295 460.69 295.5 460.7 296 460.7 296.5 460.7 297 460.7 297.5 460.7 298 460.7 298.5 460.7 299 460.7 299.5 460.7 300 460.7" stroke="#f01e14" stroke-width="1.75" fill="none" stroke-linejoin="round"/>
</g>
<rect x="46.75" y="24.1" width="245.7" height="477" fill="none" stroke="#000" stroke-width="2.8"/>
<path d="M57.6 501.1V494.8M57.6 24.1V30.4M68.81 501.1V497.5M68.81 24.1V27.7M80.03 501.1V497.5M80.03 24.1V27.7M91.25 501.1V497.5M91.25 24.1V27.7M102.46 501.1V497.5M102.46 24.1V27.7M113.67 501.1V494.8M113.67 24.1V30.4M124.89 501.1V497.5M124.89 24.1V27.7M136.11 501.1V497.5M136.11 24.1V27.7M147.32 501.1V497.5M147.32 24.1V27.7M158.53 501.1V497.5M158.53 24.1V27.7M169.75 501.1V494.8M169.75 24.1V30.4M180.97 501.1V497.5M180.97 24.1V27.7M192.18 501.1V497.5M192.18 24.1V27.7M203.39 501.1V497.5M203.39 24.1V27.7M214.61 501.1V497.5M214.61 24.1V27.7M225.82 501.1V494.8M225.82 24.1V30.4M237.04 501.1V497.5M237.04 24.1V27.7M248.25 501.1V497.5M248.25 24.1V27.7M259.47 501.1V497.5M259.47 24.1V27.7M270.69 501.1V497.5M270.69 24.1V27.7M281.9 501.1V494.8M281.9 24.1V30.4M46.75 467.5H53.05M292.45 467.5H286.15M46.75 434.61H50.35M292.45 434.61H288.85M46.75 401.72H53.05M292.45 401.72H286.15M46.75 368.83H50.35M292.45 368.83H288.85M46.75 335.94H53.05M292.45 335.94H286.15M46.75 303.05H50.35M292.45 303.05H288.85M46.75 270.16H53.05M292.45 270.16H286.15M46.75 237.27H50.35M292.45 237.27H288.85M46.75 204.38H53.05M292.45 204.38H286.15M46.75 171.49H50.35M292.45 171.49H288.85M46.75 138.6H53.05M292.45 138.6H286.15M46.75 105.71H50.35M292.45 105.71H288.85M46.75 72.82H53.05M292.45 72.82H286.15M46.75 39.93H50.35M292.45 39.93H288.85" stroke="#000" stroke-width="3.0" fill="none"/>
<text x="57.6" y="523.3" text-anchor="middle" font-size="20">-5.0</text>
<text x="113.67" y="523.3" text-anchor="middle" font-size="20">-2.5</text>
<text x="169.75" y="523.3" text-anchor="middle" font-size="20">0.0</text>
<text x="225.82" y="523.3" text-anchor="middle" font-size="20">2.5</text>
<text x="281.9" y="523.3" text-anchor="middle" font-size="20">5.0</text>
<text x="40.0" y="474.4" text-anchor="end" font-size="20">1</text>
<text x="40.0" y="408.62" text-anchor="end" font-size="20">2</text>
<text x="40.0" y="342.84" text-anchor="end" font-size="20">3</text>
<text x="40.0" y="277.06" text-anchor="end" font-size="20">4</text>
<text x="40.0" y="211.28" text-anchor="end" font-size="20">5</text>
<text x="40.0" y="145.5" text-anchor="end" font-size="20">6</text>
<text x="40.0" y="79.72" text-anchor="end" font-size="20">7</text>
<text x="130" y="557.7" font-size="23" font-style="italic">V</text><text x="143.2" y="563" font-size="10.6" font-style="italic">B</text><text x="160.6" y="557.7" font-size="23">(mV)</text>
<g transform="translate(17.2 325.6) rotate(-90)"><text x="0" y="0" font-size="23" font-style="italic">dI/dV</text><text x="52.6" y="3.3" font-size="10.6" font-style="italic">B</text><text x="71.6" y="0" font-size="23">(arb.units)</text></g>
<text x="9.1" y="17.6" font-size="29.3">a</text>
<rect x="383.4" y="464.24" width="14.8" height="38.76" fill="#6964b3"/>
<rect x="399.9" y="425.48" width="14.8" height="77.52" fill="#6964b3"/>
<rect x="416.4" y="386.72" width="14.8" height="116.28" fill="#6964b3"/>
<rect x="432.9" y="377.03" width="14.8" height="125.97" fill="#6964b3"/>
<rect x="449.4" y="357.65" width="14.8" height="145.35" fill="#6964b3"/>
<rect x="465.9" y="347.96" width="14.8" height="155.04" fill="#6964b3"/>
<rect x="482.4" y="396.41" width="14.8" height="106.59" fill="#6964b3"/>
<rect x="498.9" y="435.17" width="14.8" height="67.83" fill="#6964b3"/>
<rect x="515.4" y="444.86" width="14.8" height="58.14" fill="#6964b3"/>
<rect x="531.9" y="464.24" width="14.8" height="38.76" fill="#6964b3"/>
<rect x="548.4" y="473.93" width="14.8" height="29.07" fill="#6964b3"/>
<rect x="597.9" y="493.31" width="14.8" height="9.69" fill="#6964b3"/>
<rect x="372.4" y="318.4" width="246.5" height="183.7" fill="none" stroke="#000" stroke-width="3"/>
<path d="M381 502.1V497.6M381 318.4V322.9M389.2 502.1V499.4M389.2 318.4V321.1M397.4 502.1V499.4M397.4 318.4V321.1M405.6 502.1V499.4M405.6 318.4V321.1M413.8 502.1V499.4M413.8 318.4V321.1M422 502.1V497.6M422 318.4V322.9M430.2 502.1V499.4M430.2 318.4V321.1M438.4 502.1V499.4M438.4 318.4V321.1M446.6 502.1V499.4M446.6 318.4V321.1M454.8 502.1V499.4M454.8 318.4V321.1M463 502.1V497.6M463 318.4V322.9M471.2 502.1V499.4M471.2 318.4V321.1M479.4 502.1V499.4M479.4 318.4V321.1M487.6 502.1V499.4M487.6 318.4V321.1M495.8 502.1V499.4M495.8 318.4V321.1M504 502.1V497.6M504 318.4V322.9M512.2 502.1V499.4M512.2 318.4V321.1M520.4 502.1V499.4M520.4 318.4V321.1M528.6 502.1V499.4M528.6 318.4V321.1M536.8 502.1V499.4M536.8 318.4V321.1M545 502.1V497.6M545 318.4V322.9M553.2 502.1V499.4M553.2 318.4V321.1M561.4 502.1V499.4M561.4 318.4V321.1M569.6 502.1V499.4M569.6 318.4V321.1M577.8 502.1V499.4M577.8 318.4V321.1M586 502.1V497.6M586 318.4V322.9M594.2 502.1V499.4M594.2 318.4V321.1M602.4 502.1V499.4M602.4 318.4V321.1M610.6 502.1V499.4M610.6 318.4V321.1M372.4 493.31H375.1M618.9 493.31H616.2M372.4 483.62H375.1M618.9 483.62H616.2M372.4 473.93H375.1M618.9 473.93H616.2M372.4 464.24H375.1M618.9 464.24H616.2M372.4 454.55H376.9M618.9 454.55H614.4M372.4 444.86H375.1M618.9 444.86H616.2M372.4 435.17H375.1M618.9 435.17H616.2M372.4 425.48H375.1M618.9 425.48H616.2M372.4 415.79H375.1M618.9 415.79H616.2M372.4 406.1H376.9M618.9 406.1H614.4M372.4 396.41H375.1M618.9 396.41H616.2M372.4 386.72H375.1M618.9 386.72H616.2M372.4 377.03H375.1M618.9 377.03H616.2M372.4 367.34H375.1M618.9 367.34H616.2M372.4 357.65H376.9M618.9 357.65H614.4M372.4 347.96H375.1M618.9 347.96H616.2M372.4 338.27H375.1M618.9 338.27H616.2M372.4 328.58H375.1M618.9 328.58H616.2" stroke="#000" stroke-width="2.6" fill="none"/>
<text x="381" y="523.3" text-anchor="middle" font-size="19.8">0.5</text>
<text x="422" y="523.3" text-anchor="middle" font-size="19.8">1.0</text>
<text x="463" y="523.3" text-anchor="middle" font-size="19.8">1.5</text>
<text x="504" y="523.3" text-anchor="middle" font-size="19.8">2.0</text>
<text x="545" y="523.3" text-anchor="middle" font-size="19.8">2.5</text>
<text x="586" y="523.3" text-anchor="middle" font-size="19.8">3.0</text>
<text x="368" y="460.75" text-anchor="end" font-size="19.8">5</text>
<text x="368" y="412.3" text-anchor="end" font-size="19.8">10</text>
<text x="368" y="363.85" text-anchor="end" font-size="19.8">15</text>
<path d="M492.6 330.3L488.6 338.5L492.6 346.7M508.2 330.3L512.3 338.5L508.2 346.7" stroke="#333" stroke-width="1.15" fill="none"/>
<g font-size="20" fill="#262626">
<text x="495.2" y="345.8" font-style="italic">&#916;</text>
<text x="518.8" y="345.8">=</text><text x="536.4" y="345.8">1.5</text><text x="566.6" y="345.8">meV</text>
<text x="487.6" y="370.9" font-style="italic">SD</text>
<text x="518.8" y="370.9">=</text><text x="536.4" y="370.9">0.5</text><text x="566.6" y="370.9">meV</text>
</g>
<text x="485" y="557.7" text-anchor="middle" font-size="23"><tspan font-style="italic">&#916;</tspan> (meV)</text>
<text x="323.4" y="336.3" font-size="29.8">c</text>
</svg></body></html>
